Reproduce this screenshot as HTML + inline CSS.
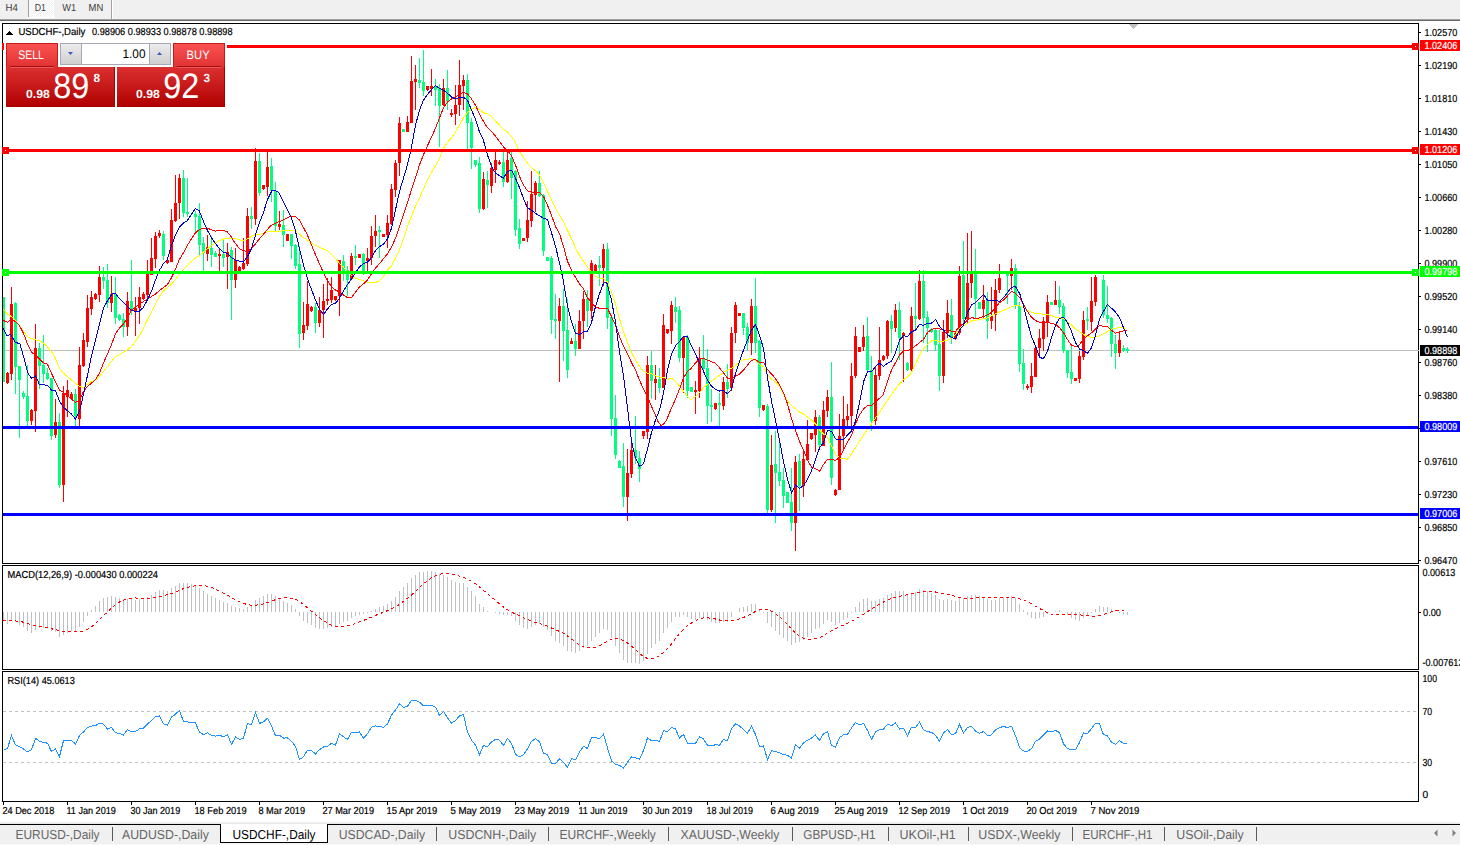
<!DOCTYPE html><html><head><meta charset="utf-8"><title>USDCHF Daily</title><style>html,body{margin:0;padding:0;background:#fff;width:1460px;height:845px;overflow:hidden}</style></head><body><svg width="1460" height="845" viewBox="0 0 1460 845" style="position:absolute;left:0;top:0" shape-rendering="crispEdges" text-rendering="geometricPrecision" font-family="'Liberation Sans', sans-serif">
<rect x="0" y="0" width="1460" height="845" fill="#ffffff"/>
<rect x="0" y="0" width="1460" height="19" fill="#f0f0f0"/>
<rect x="0" y="19" width="1460" height="1" fill="#a0a0a0"/>
<rect x="0" y="20" width="1460" height="1" fill="#696969"/>
<defs><clipPath id="cm"><rect x="3" y="24" width="1415" height="539"/></clipPath><clipPath id="cd"><rect x="3" y="566" width="1415" height="103"/></clipPath><clipPath id="cr"><rect x="3" y="672" width="1415" height="129"/></clipPath></defs>
<rect x="3" y="350" width="1415" height="1" fill="#c0c0c0"/>
<g clip-path="url(#cm)">
<rect x="3" y="297" width="1" height="85" fill="#00ff7f"/>
<rect x="2" y="297" width="3" height="85" fill="#00ff7f"/>
<rect x="7" y="372" width="1" height="12" fill="#ff0000"/>
<rect x="6" y="373" width="3" height="10" fill="#ff0000"/>
<rect x="11" y="287" width="1" height="93" fill="#ff0000"/>
<rect x="10" y="304" width="3" height="70" fill="#ff0000"/>
<rect x="15" y="302" width="1" height="92" fill="#00ff7f"/>
<rect x="14" y="303" width="3" height="64" fill="#00ff7f"/>
<rect x="19" y="366" width="1" height="72" fill="#00ff7f"/>
<rect x="18" y="366" width="3" height="14" fill="#00ff7f"/>
<rect x="23" y="391" width="1" height="8" fill="#00ff7f"/>
<rect x="22" y="393" width="3" height="4" fill="#00ff7f"/>
<rect x="27" y="365" width="1" height="61" fill="#00ff7f"/>
<rect x="26" y="396" width="3" height="25" fill="#00ff7f"/>
<rect x="31" y="409" width="1" height="16" fill="#ff0000"/>
<rect x="30" y="410" width="3" height="11" fill="#ff0000"/>
<rect x="35" y="324" width="1" height="108" fill="#ff0000"/>
<rect x="34" y="348" width="3" height="63" fill="#ff0000"/>
<rect x="39" y="343" width="1" height="46" fill="#00ff7f"/>
<rect x="38" y="348" width="3" height="18" fill="#00ff7f"/>
<rect x="43" y="335" width="1" height="48" fill="#00ff7f"/>
<rect x="42" y="365" width="3" height="9" fill="#00ff7f"/>
<rect x="47" y="368" width="1" height="12" fill="#00ff7f"/>
<rect x="46" y="373" width="3" height="6" fill="#00ff7f"/>
<rect x="51" y="378" width="1" height="62" fill="#00ff7f"/>
<rect x="50" y="378" width="3" height="58" fill="#00ff7f"/>
<rect x="55" y="399" width="1" height="39" fill="#ff0000"/>
<rect x="54" y="422" width="3" height="13" fill="#ff0000"/>
<rect x="59" y="413" width="1" height="75" fill="#00ff7f"/>
<rect x="58" y="422" width="3" height="63" fill="#00ff7f"/>
<rect x="63" y="386" width="1" height="116" fill="#ff0000"/>
<rect x="62" y="393" width="3" height="92" fill="#ff0000"/>
<rect x="67" y="380" width="1" height="37" fill="#ff0000"/>
<rect x="66" y="390" width="3" height="7" fill="#ff0000"/>
<rect x="71" y="392" width="1" height="7" fill="#ff0000"/>
<rect x="70" y="394" width="3" height="5" fill="#ff0000"/>
<rect x="75" y="389" width="1" height="37" fill="#00ff7f"/>
<rect x="74" y="394" width="3" height="22" fill="#00ff7f"/>
<rect x="79" y="347" width="1" height="79" fill="#ff0000"/>
<rect x="78" y="365" width="3" height="54" fill="#ff0000"/>
<rect x="83" y="333" width="1" height="34" fill="#ff0000"/>
<rect x="82" y="340" width="3" height="26" fill="#ff0000"/>
<rect x="87" y="295" width="1" height="52" fill="#ff0000"/>
<rect x="86" y="308" width="3" height="34" fill="#ff0000"/>
<rect x="91" y="291" width="1" height="24" fill="#ff0000"/>
<rect x="90" y="297" width="3" height="12" fill="#ff0000"/>
<rect x="95" y="293" width="1" height="7" fill="#ff0000"/>
<rect x="94" y="294" width="3" height="5" fill="#ff0000"/>
<rect x="99" y="266" width="1" height="36" fill="#ff0000"/>
<rect x="98" y="277" width="3" height="18" fill="#ff0000"/>
<rect x="103" y="267" width="1" height="22" fill="#00ff7f"/>
<rect x="102" y="277" width="3" height="4" fill="#00ff7f"/>
<rect x="107" y="264" width="1" height="44" fill="#00ff7f"/>
<rect x="106" y="280" width="3" height="23" fill="#00ff7f"/>
<rect x="111" y="276" width="1" height="36" fill="#ff0000"/>
<rect x="110" y="294" width="3" height="9" fill="#ff0000"/>
<rect x="115" y="277" width="1" height="47" fill="#00ff7f"/>
<rect x="114" y="294" width="3" height="24" fill="#00ff7f"/>
<rect x="119" y="314" width="1" height="7" fill="#00ff7f"/>
<rect x="118" y="315" width="3" height="5" fill="#00ff7f"/>
<rect x="123" y="313" width="1" height="24" fill="#00ff7f"/>
<rect x="122" y="319" width="3" height="8" fill="#00ff7f"/>
<rect x="127" y="292" width="1" height="44" fill="#ff0000"/>
<rect x="126" y="301" width="3" height="26" fill="#ff0000"/>
<rect x="131" y="260" width="1" height="55" fill="#00ff7f"/>
<rect x="130" y="301" width="3" height="10" fill="#00ff7f"/>
<rect x="135" y="297" width="1" height="39" fill="#ff0000"/>
<rect x="134" y="308" width="3" height="3" fill="#ff0000"/>
<rect x="139" y="287" width="1" height="37" fill="#ff0000"/>
<rect x="138" y="297" width="3" height="11" fill="#ff0000"/>
<rect x="143" y="292" width="1" height="8" fill="#ff0000"/>
<rect x="142" y="294" width="3" height="5" fill="#ff0000"/>
<rect x="147" y="260" width="1" height="40" fill="#ff0000"/>
<rect x="146" y="274" width="3" height="21" fill="#ff0000"/>
<rect x="151" y="238" width="1" height="37" fill="#ff0000"/>
<rect x="150" y="258" width="3" height="17" fill="#ff0000"/>
<rect x="155" y="232" width="1" height="36" fill="#ff0000"/>
<rect x="154" y="236" width="3" height="23" fill="#ff0000"/>
<rect x="159" y="230" width="1" height="8" fill="#ff0000"/>
<rect x="158" y="233" width="3" height="3" fill="#ff0000"/>
<rect x="163" y="231" width="1" height="29" fill="#00ff7f"/>
<rect x="162" y="234" width="3" height="22" fill="#00ff7f"/>
<rect x="167" y="259" width="1" height="5" fill="#ff0000"/>
<rect x="166" y="260" width="3" height="3" fill="#ff0000"/>
<rect x="171" y="209" width="1" height="53" fill="#ff0000"/>
<rect x="170" y="220" width="3" height="42" fill="#ff0000"/>
<rect x="175" y="175" width="1" height="47" fill="#ff0000"/>
<rect x="174" y="203" width="3" height="18" fill="#ff0000"/>
<rect x="179" y="174" width="1" height="45" fill="#ff0000"/>
<rect x="178" y="178" width="3" height="25" fill="#ff0000"/>
<rect x="183" y="170" width="1" height="47" fill="#00ff7f"/>
<rect x="182" y="178" width="3" height="35" fill="#00ff7f"/>
<rect x="187" y="178" width="1" height="39" fill="#00ff7f"/>
<rect x="186" y="212" width="3" height="2" fill="#00ff7f"/>
<rect x="195" y="211" width="1" height="21" fill="#00ff7f"/>
<rect x="194" y="214" width="3" height="3" fill="#00ff7f"/>
<rect x="199" y="203" width="1" height="52" fill="#00ff7f"/>
<rect x="198" y="216" width="3" height="29" fill="#00ff7f"/>
<rect x="203" y="237" width="1" height="34" fill="#00ff7f"/>
<rect x="202" y="243" width="3" height="10" fill="#00ff7f"/>
<rect x="207" y="235" width="1" height="26" fill="#ff0000"/>
<rect x="206" y="247" width="3" height="7" fill="#ff0000"/>
<rect x="211" y="236" width="1" height="31" fill="#00ff7f"/>
<rect x="210" y="248" width="3" height="7" fill="#00ff7f"/>
<rect x="215" y="251" width="1" height="6" fill="#00ff7f"/>
<rect x="214" y="253" width="3" height="4" fill="#00ff7f"/>
<rect x="219" y="248" width="1" height="23" fill="#ff0000"/>
<rect x="218" y="254" width="3" height="2" fill="#ff0000"/>
<rect x="223" y="238" width="1" height="29" fill="#00ff7f"/>
<rect x="222" y="254" width="3" height="4" fill="#00ff7f"/>
<rect x="227" y="243" width="1" height="46" fill="#ff0000"/>
<rect x="226" y="252" width="3" height="5" fill="#ff0000"/>
<rect x="231" y="247" width="1" height="73" fill="#00ff7f"/>
<rect x="230" y="250" width="3" height="30" fill="#00ff7f"/>
<rect x="235" y="248" width="1" height="40" fill="#ff0000"/>
<rect x="234" y="260" width="3" height="20" fill="#ff0000"/>
<rect x="239" y="266" width="1" height="5" fill="#ff0000"/>
<rect x="238" y="267" width="3" height="4" fill="#ff0000"/>
<rect x="243" y="238" width="1" height="32" fill="#ff0000"/>
<rect x="242" y="263" width="3" height="6" fill="#ff0000"/>
<rect x="247" y="208" width="1" height="58" fill="#ff0000"/>
<rect x="246" y="216" width="3" height="48" fill="#ff0000"/>
<rect x="251" y="207" width="1" height="22" fill="#00ff7f"/>
<rect x="250" y="216" width="3" height="3" fill="#00ff7f"/>
<rect x="255" y="148" width="1" height="77" fill="#ff0000"/>
<rect x="254" y="161" width="3" height="58" fill="#ff0000"/>
<rect x="259" y="153" width="1" height="43" fill="#00ff7f"/>
<rect x="258" y="161" width="3" height="32" fill="#00ff7f"/>
<rect x="263" y="185" width="1" height="5" fill="#ff0000"/>
<rect x="262" y="185" width="3" height="4" fill="#ff0000"/>
<rect x="267" y="152" width="1" height="44" fill="#ff0000"/>
<rect x="266" y="167" width="3" height="20" fill="#ff0000"/>
<rect x="271" y="158" width="1" height="44" fill="#00ff7f"/>
<rect x="270" y="166" width="3" height="25" fill="#00ff7f"/>
<rect x="275" y="182" width="1" height="50" fill="#00ff7f"/>
<rect x="274" y="191" width="3" height="35" fill="#00ff7f"/>
<rect x="279" y="211" width="1" height="19" fill="#ff0000"/>
<rect x="278" y="224" width="3" height="3" fill="#ff0000"/>
<rect x="283" y="210" width="1" height="37" fill="#00ff7f"/>
<rect x="282" y="225" width="3" height="10" fill="#00ff7f"/>
<rect x="287" y="234" width="1" height="7" fill="#ff0000"/>
<rect x="286" y="234" width="3" height="7" fill="#ff0000"/>
<rect x="291" y="234" width="1" height="25" fill="#00ff7f"/>
<rect x="290" y="234" width="3" height="12" fill="#00ff7f"/>
<rect x="295" y="244" width="1" height="25" fill="#00ff7f"/>
<rect x="294" y="245" width="3" height="21" fill="#00ff7f"/>
<rect x="299" y="246" width="1" height="102" fill="#00ff7f"/>
<rect x="298" y="264" width="3" height="70" fill="#00ff7f"/>
<rect x="303" y="302" width="1" height="38" fill="#ff0000"/>
<rect x="302" y="325" width="3" height="8" fill="#ff0000"/>
<rect x="307" y="281" width="1" height="49" fill="#ff0000"/>
<rect x="306" y="304" width="3" height="22" fill="#ff0000"/>
<rect x="311" y="306" width="1" height="6" fill="#ff0000"/>
<rect x="310" y="307" width="3" height="4" fill="#ff0000"/>
<rect x="315" y="303" width="1" height="30" fill="#00ff7f"/>
<rect x="314" y="307" width="3" height="16" fill="#00ff7f"/>
<rect x="319" y="297" width="1" height="30" fill="#ff0000"/>
<rect x="318" y="310" width="3" height="13" fill="#ff0000"/>
<rect x="323" y="284" width="1" height="54" fill="#ff0000"/>
<rect x="322" y="301" width="3" height="9" fill="#ff0000"/>
<rect x="327" y="278" width="1" height="27" fill="#ff0000"/>
<rect x="326" y="299" width="3" height="2" fill="#ff0000"/>
<rect x="331" y="277" width="1" height="26" fill="#ff0000"/>
<rect x="330" y="290" width="3" height="10" fill="#ff0000"/>
<rect x="335" y="296" width="1" height="5" fill="#ff0000"/>
<rect x="334" y="296" width="3" height="4" fill="#ff0000"/>
<rect x="339" y="260" width="1" height="56" fill="#ff0000"/>
<rect x="338" y="260" width="3" height="36" fill="#ff0000"/>
<rect x="343" y="255" width="1" height="26" fill="#00ff7f"/>
<rect x="342" y="261" width="3" height="10" fill="#00ff7f"/>
<rect x="347" y="266" width="1" height="30" fill="#00ff7f"/>
<rect x="346" y="270" width="3" height="10" fill="#00ff7f"/>
<rect x="351" y="253" width="1" height="26" fill="#ff0000"/>
<rect x="350" y="256" width="3" height="23" fill="#ff0000"/>
<rect x="355" y="245" width="1" height="20" fill="#00ff7f"/>
<rect x="354" y="256" width="3" height="2" fill="#00ff7f"/>
<rect x="359" y="254" width="1" height="4" fill="#ff0000"/>
<rect x="358" y="254" width="3" height="4" fill="#ff0000"/>
<rect x="363" y="253" width="1" height="22" fill="#00ff7f"/>
<rect x="362" y="254" width="3" height="19" fill="#00ff7f"/>
<rect x="367" y="248" width="1" height="23" fill="#ff0000"/>
<rect x="366" y="258" width="3" height="3" fill="#ff0000"/>
<rect x="371" y="226" width="1" height="39" fill="#ff0000"/>
<rect x="370" y="236" width="3" height="22" fill="#ff0000"/>
<rect x="375" y="215" width="1" height="32" fill="#ff0000"/>
<rect x="374" y="231" width="3" height="5" fill="#ff0000"/>
<rect x="379" y="226" width="1" height="32" fill="#00ff7f"/>
<rect x="378" y="230" width="3" height="2" fill="#00ff7f"/>
<rect x="383" y="234" width="1" height="3" fill="#ff0000"/>
<rect x="382" y="234" width="3" height="3" fill="#ff0000"/>
<rect x="387" y="215" width="1" height="33" fill="#ff0000"/>
<rect x="386" y="223" width="3" height="12" fill="#ff0000"/>
<rect x="391" y="184" width="1" height="41" fill="#ff0000"/>
<rect x="390" y="189" width="3" height="35" fill="#ff0000"/>
<rect x="395" y="160" width="1" height="37" fill="#ff0000"/>
<rect x="394" y="163" width="3" height="27" fill="#ff0000"/>
<rect x="399" y="117" width="1" height="59" fill="#ff0000"/>
<rect x="398" y="123" width="3" height="40" fill="#ff0000"/>
<rect x="403" y="129" width="1" height="3" fill="#00ff7f"/>
<rect x="402" y="129" width="3" height="3" fill="#00ff7f"/>
<rect x="407" y="116" width="1" height="16" fill="#ff0000"/>
<rect x="406" y="122" width="3" height="10" fill="#ff0000"/>
<rect x="411" y="56" width="1" height="67" fill="#ff0000"/>
<rect x="410" y="81" width="3" height="42" fill="#ff0000"/>
<rect x="415" y="65" width="1" height="45" fill="#ff0000"/>
<rect x="414" y="79" width="3" height="3" fill="#ff0000"/>
<rect x="419" y="58" width="1" height="30" fill="#00ff7f"/>
<rect x="418" y="80" width="3" height="3" fill="#00ff7f"/>
<rect x="423" y="50" width="1" height="46" fill="#00ff7f"/>
<rect x="422" y="82" width="3" height="9" fill="#00ff7f"/>
<rect x="427" y="86" width="1" height="5" fill="#ff0000"/>
<rect x="426" y="86" width="3" height="4" fill="#ff0000"/>
<rect x="431" y="69" width="1" height="27" fill="#ff0000"/>
<rect x="430" y="86" width="3" height="3" fill="#ff0000"/>
<rect x="435" y="79" width="1" height="27" fill="#00ff7f"/>
<rect x="434" y="86" width="3" height="4" fill="#00ff7f"/>
<rect x="439" y="84" width="1" height="63" fill="#00ff7f"/>
<rect x="438" y="88" width="3" height="18" fill="#00ff7f"/>
<rect x="443" y="79" width="1" height="27" fill="#ff0000"/>
<rect x="442" y="88" width="3" height="17" fill="#ff0000"/>
<rect x="447" y="70" width="1" height="40" fill="#00ff7f"/>
<rect x="446" y="88" width="3" height="13" fill="#00ff7f"/>
<rect x="451" y="109" width="1" height="8" fill="#ff0000"/>
<rect x="450" y="113" width="3" height="2" fill="#ff0000"/>
<rect x="455" y="85" width="1" height="40" fill="#ff0000"/>
<rect x="454" y="105" width="3" height="9" fill="#ff0000"/>
<rect x="459" y="60" width="1" height="56" fill="#ff0000"/>
<rect x="458" y="85" width="3" height="20" fill="#ff0000"/>
<rect x="463" y="75" width="1" height="35" fill="#ff0000"/>
<rect x="462" y="80" width="3" height="6" fill="#ff0000"/>
<rect x="467" y="74" width="1" height="75" fill="#00ff7f"/>
<rect x="466" y="80" width="3" height="43" fill="#00ff7f"/>
<rect x="471" y="118" width="1" height="51" fill="#00ff7f"/>
<rect x="470" y="122" width="3" height="26" fill="#00ff7f"/>
<rect x="475" y="160" width="1" height="7" fill="#00ff7f"/>
<rect x="474" y="160" width="3" height="5" fill="#00ff7f"/>
<rect x="479" y="157" width="1" height="56" fill="#00ff7f"/>
<rect x="478" y="163" width="3" height="46" fill="#00ff7f"/>
<rect x="483" y="172" width="1" height="38" fill="#ff0000"/>
<rect x="482" y="179" width="3" height="30" fill="#ff0000"/>
<rect x="487" y="171" width="1" height="37" fill="#00ff7f"/>
<rect x="486" y="180" width="3" height="5" fill="#00ff7f"/>
<rect x="491" y="163" width="1" height="30" fill="#ff0000"/>
<rect x="490" y="168" width="3" height="18" fill="#ff0000"/>
<rect x="495" y="151" width="1" height="32" fill="#ff0000"/>
<rect x="494" y="160" width="3" height="10" fill="#ff0000"/>
<rect x="499" y="160" width="1" height="5" fill="#ff0000"/>
<rect x="498" y="162" width="3" height="2" fill="#ff0000"/>
<rect x="503" y="151" width="1" height="36" fill="#00ff7f"/>
<rect x="502" y="162" width="3" height="20" fill="#00ff7f"/>
<rect x="507" y="151" width="1" height="32" fill="#ff0000"/>
<rect x="506" y="160" width="3" height="22" fill="#ff0000"/>
<rect x="511" y="152" width="1" height="47" fill="#00ff7f"/>
<rect x="510" y="158" width="3" height="20" fill="#00ff7f"/>
<rect x="515" y="170" width="1" height="66" fill="#00ff7f"/>
<rect x="514" y="171" width="3" height="59" fill="#00ff7f"/>
<rect x="519" y="219" width="1" height="30" fill="#00ff7f"/>
<rect x="518" y="228" width="3" height="16" fill="#00ff7f"/>
<rect x="523" y="238" width="1" height="3" fill="#ff0000"/>
<rect x="522" y="238" width="3" height="3" fill="#ff0000"/>
<rect x="527" y="201" width="1" height="41" fill="#ff0000"/>
<rect x="526" y="220" width="3" height="18" fill="#ff0000"/>
<rect x="531" y="171" width="1" height="56" fill="#ff0000"/>
<rect x="530" y="194" width="3" height="27" fill="#ff0000"/>
<rect x="535" y="181" width="1" height="31" fill="#ff0000"/>
<rect x="534" y="183" width="3" height="12" fill="#ff0000"/>
<rect x="539" y="171" width="1" height="26" fill="#00ff7f"/>
<rect x="538" y="183" width="3" height="13" fill="#00ff7f"/>
<rect x="543" y="194" width="1" height="62" fill="#00ff7f"/>
<rect x="542" y="195" width="3" height="56" fill="#00ff7f"/>
<rect x="547" y="257" width="1" height="4" fill="#00ff7f"/>
<rect x="546" y="257" width="3" height="4" fill="#00ff7f"/>
<rect x="551" y="256" width="1" height="78" fill="#00ff7f"/>
<rect x="550" y="258" width="3" height="62" fill="#00ff7f"/>
<rect x="555" y="294" width="1" height="45" fill="#00ff7f"/>
<rect x="554" y="319" width="3" height="2" fill="#00ff7f"/>
<rect x="559" y="298" width="1" height="84" fill="#ff0000"/>
<rect x="558" y="306" width="3" height="15" fill="#ff0000"/>
<rect x="563" y="289" width="1" height="72" fill="#00ff7f"/>
<rect x="562" y="306" width="3" height="25" fill="#00ff7f"/>
<rect x="567" y="299" width="1" height="79" fill="#00ff7f"/>
<rect x="566" y="330" width="3" height="40" fill="#00ff7f"/>
<rect x="571" y="338" width="1" height="6" fill="#ff0000"/>
<rect x="570" y="341" width="3" height="3" fill="#ff0000"/>
<rect x="575" y="324" width="1" height="32" fill="#00ff7f"/>
<rect x="574" y="341" width="3" height="8" fill="#00ff7f"/>
<rect x="579" y="310" width="1" height="39" fill="#ff0000"/>
<rect x="578" y="321" width="3" height="28" fill="#ff0000"/>
<rect x="583" y="291" width="1" height="48" fill="#ff0000"/>
<rect x="582" y="299" width="3" height="22" fill="#ff0000"/>
<rect x="587" y="290" width="1" height="37" fill="#00ff7f"/>
<rect x="586" y="299" width="3" height="12" fill="#00ff7f"/>
<rect x="591" y="260" width="1" height="59" fill="#ff0000"/>
<rect x="590" y="263" width="3" height="48" fill="#ff0000"/>
<rect x="595" y="264" width="1" height="8" fill="#ff0000"/>
<rect x="594" y="265" width="3" height="6" fill="#ff0000"/>
<rect x="599" y="256" width="1" height="30" fill="#00ff7f"/>
<rect x="598" y="265" width="3" height="3" fill="#00ff7f"/>
<rect x="603" y="244" width="1" height="42" fill="#ff0000"/>
<rect x="602" y="249" width="3" height="19" fill="#ff0000"/>
<rect x="607" y="243" width="1" height="86" fill="#00ff7f"/>
<rect x="606" y="249" width="3" height="69" fill="#00ff7f"/>
<rect x="611" y="316" width="1" height="120" fill="#00ff7f"/>
<rect x="610" y="317" width="3" height="102" fill="#00ff7f"/>
<rect x="615" y="395" width="1" height="64" fill="#00ff7f"/>
<rect x="614" y="418" width="3" height="37" fill="#00ff7f"/>
<rect x="619" y="460" width="1" height="8" fill="#00ff7f"/>
<rect x="618" y="461" width="3" height="7" fill="#00ff7f"/>
<rect x="623" y="443" width="1" height="64" fill="#00ff7f"/>
<rect x="622" y="466" width="3" height="31" fill="#00ff7f"/>
<rect x="627" y="449" width="1" height="72" fill="#ff0000"/>
<rect x="626" y="473" width="3" height="24" fill="#ff0000"/>
<rect x="631" y="443" width="1" height="35" fill="#ff0000"/>
<rect x="630" y="450" width="3" height="24" fill="#ff0000"/>
<rect x="635" y="416" width="1" height="48" fill="#00ff7f"/>
<rect x="634" y="450" width="3" height="8" fill="#00ff7f"/>
<rect x="639" y="451" width="1" height="31" fill="#00ff7f"/>
<rect x="638" y="458" width="3" height="11" fill="#00ff7f"/>
<rect x="643" y="431" width="1" height="8" fill="#ff0000"/>
<rect x="642" y="431" width="3" height="5" fill="#ff0000"/>
<rect x="647" y="356" width="1" height="83" fill="#ff0000"/>
<rect x="646" y="365" width="3" height="67" fill="#ff0000"/>
<rect x="651" y="351" width="1" height="48" fill="#00ff7f"/>
<rect x="650" y="365" width="3" height="16" fill="#00ff7f"/>
<rect x="655" y="365" width="1" height="35" fill="#ff0000"/>
<rect x="654" y="379" width="3" height="4" fill="#ff0000"/>
<rect x="659" y="368" width="1" height="25" fill="#00ff7f"/>
<rect x="658" y="379" width="3" height="9" fill="#00ff7f"/>
<rect x="663" y="314" width="1" height="74" fill="#ff0000"/>
<rect x="662" y="325" width="3" height="63" fill="#ff0000"/>
<rect x="667" y="329" width="1" height="5" fill="#ff0000"/>
<rect x="666" y="329" width="3" height="4" fill="#ff0000"/>
<rect x="671" y="301" width="1" height="43" fill="#ff0000"/>
<rect x="670" y="305" width="3" height="26" fill="#ff0000"/>
<rect x="675" y="297" width="1" height="26" fill="#00ff7f"/>
<rect x="674" y="307" width="3" height="5" fill="#00ff7f"/>
<rect x="679" y="306" width="1" height="56" fill="#00ff7f"/>
<rect x="678" y="310" width="3" height="48" fill="#00ff7f"/>
<rect x="683" y="336" width="1" height="57" fill="#ff0000"/>
<rect x="682" y="337" width="3" height="21" fill="#ff0000"/>
<rect x="687" y="335" width="1" height="63" fill="#00ff7f"/>
<rect x="686" y="337" width="3" height="54" fill="#00ff7f"/>
<rect x="691" y="387" width="1" height="5" fill="#00ff7f"/>
<rect x="690" y="387" width="3" height="5" fill="#00ff7f"/>
<rect x="695" y="381" width="1" height="33" fill="#ff0000"/>
<rect x="694" y="390" width="3" height="2" fill="#ff0000"/>
<rect x="699" y="347" width="1" height="51" fill="#ff0000"/>
<rect x="698" y="358" width="3" height="33" fill="#ff0000"/>
<rect x="703" y="335" width="1" height="38" fill="#00ff7f"/>
<rect x="702" y="358" width="3" height="11" fill="#00ff7f"/>
<rect x="707" y="349" width="1" height="75" fill="#00ff7f"/>
<rect x="706" y="368" width="3" height="38" fill="#00ff7f"/>
<rect x="711" y="389" width="1" height="33" fill="#00ff7f"/>
<rect x="710" y="405" width="3" height="2" fill="#00ff7f"/>
<rect x="715" y="403" width="1" height="7" fill="#ff0000"/>
<rect x="714" y="403" width="3" height="6" fill="#ff0000"/>
<rect x="719" y="393" width="1" height="33" fill="#00ff7f"/>
<rect x="718" y="403" width="3" height="2" fill="#00ff7f"/>
<rect x="723" y="377" width="1" height="33" fill="#ff0000"/>
<rect x="722" y="382" width="3" height="24" fill="#ff0000"/>
<rect x="727" y="364" width="1" height="34" fill="#00ff7f"/>
<rect x="726" y="382" width="3" height="7" fill="#00ff7f"/>
<rect x="731" y="327" width="1" height="64" fill="#ff0000"/>
<rect x="730" y="333" width="3" height="55" fill="#ff0000"/>
<rect x="735" y="302" width="1" height="41" fill="#ff0000"/>
<rect x="734" y="305" width="3" height="28" fill="#ff0000"/>
<rect x="739" y="313" width="1" height="3" fill="#ff0000"/>
<rect x="738" y="313" width="3" height="3" fill="#ff0000"/>
<rect x="743" y="313" width="1" height="22" fill="#00ff7f"/>
<rect x="742" y="313" width="3" height="15" fill="#00ff7f"/>
<rect x="747" y="323" width="1" height="28" fill="#00ff7f"/>
<rect x="746" y="327" width="3" height="16" fill="#00ff7f"/>
<rect x="751" y="299" width="1" height="56" fill="#ff0000"/>
<rect x="750" y="306" width="3" height="37" fill="#ff0000"/>
<rect x="755" y="278" width="1" height="75" fill="#00ff7f"/>
<rect x="754" y="306" width="3" height="37" fill="#00ff7f"/>
<rect x="759" y="340" width="1" height="77" fill="#00ff7f"/>
<rect x="758" y="341" width="3" height="67" fill="#00ff7f"/>
<rect x="763" y="405" width="1" height="6" fill="#ff0000"/>
<rect x="762" y="405" width="3" height="5" fill="#ff0000"/>
<rect x="767" y="404" width="1" height="109" fill="#00ff7f"/>
<rect x="766" y="406" width="3" height="104" fill="#00ff7f"/>
<rect x="771" y="435" width="1" height="77" fill="#ff0000"/>
<rect x="770" y="465" width="3" height="45" fill="#ff0000"/>
<rect x="775" y="431" width="1" height="92" fill="#00ff7f"/>
<rect x="774" y="464" width="3" height="9" fill="#00ff7f"/>
<rect x="779" y="442" width="1" height="44" fill="#00ff7f"/>
<rect x="778" y="472" width="3" height="9" fill="#00ff7f"/>
<rect x="783" y="468" width="1" height="40" fill="#00ff7f"/>
<rect x="782" y="480" width="3" height="16" fill="#00ff7f"/>
<rect x="787" y="492" width="1" height="11" fill="#00ff7f"/>
<rect x="786" y="492" width="3" height="11" fill="#00ff7f"/>
<rect x="791" y="468" width="1" height="63" fill="#00ff7f"/>
<rect x="790" y="502" width="3" height="21" fill="#00ff7f"/>
<rect x="795" y="456" width="1" height="95" fill="#ff0000"/>
<rect x="794" y="462" width="3" height="61" fill="#ff0000"/>
<rect x="799" y="454" width="1" height="57" fill="#00ff7f"/>
<rect x="798" y="461" width="3" height="25" fill="#00ff7f"/>
<rect x="803" y="449" width="1" height="48" fill="#ff0000"/>
<rect x="802" y="459" width="3" height="27" fill="#ff0000"/>
<rect x="807" y="420" width="1" height="40" fill="#ff0000"/>
<rect x="806" y="444" width="3" height="16" fill="#ff0000"/>
<rect x="811" y="433" width="1" height="7" fill="#ff0000"/>
<rect x="810" y="433" width="3" height="6" fill="#ff0000"/>
<rect x="815" y="410" width="1" height="42" fill="#ff0000"/>
<rect x="814" y="417" width="3" height="18" fill="#ff0000"/>
<rect x="819" y="415" width="1" height="34" fill="#00ff7f"/>
<rect x="818" y="417" width="3" height="28" fill="#00ff7f"/>
<rect x="823" y="401" width="1" height="45" fill="#ff0000"/>
<rect x="822" y="410" width="3" height="36" fill="#ff0000"/>
<rect x="827" y="390" width="1" height="27" fill="#ff0000"/>
<rect x="826" y="397" width="3" height="14" fill="#ff0000"/>
<rect x="831" y="362" width="1" height="123" fill="#00ff7f"/>
<rect x="830" y="397" width="3" height="81" fill="#00ff7f"/>
<rect x="835" y="489" width="1" height="7" fill="#ff0000"/>
<rect x="834" y="490" width="3" height="5" fill="#ff0000"/>
<rect x="839" y="414" width="1" height="76" fill="#ff0000"/>
<rect x="838" y="436" width="3" height="54" fill="#ff0000"/>
<rect x="843" y="396" width="1" height="54" fill="#ff0000"/>
<rect x="842" y="419" width="3" height="17" fill="#ff0000"/>
<rect x="847" y="404" width="1" height="23" fill="#ff0000"/>
<rect x="846" y="416" width="3" height="4" fill="#ff0000"/>
<rect x="851" y="363" width="1" height="63" fill="#ff0000"/>
<rect x="850" y="376" width="3" height="40" fill="#ff0000"/>
<rect x="855" y="327" width="1" height="51" fill="#ff0000"/>
<rect x="854" y="336" width="3" height="40" fill="#ff0000"/>
<rect x="859" y="347" width="1" height="5" fill="#ff0000"/>
<rect x="858" y="347" width="3" height="5" fill="#ff0000"/>
<rect x="863" y="325" width="1" height="26" fill="#ff0000"/>
<rect x="862" y="337" width="3" height="10" fill="#ff0000"/>
<rect x="867" y="317" width="1" height="54" fill="#00ff7f"/>
<rect x="866" y="336" width="3" height="34" fill="#00ff7f"/>
<rect x="871" y="356" width="1" height="75" fill="#00ff7f"/>
<rect x="870" y="370" width="3" height="51" fill="#00ff7f"/>
<rect x="875" y="366" width="1" height="59" fill="#ff0000"/>
<rect x="874" y="375" width="3" height="46" fill="#ff0000"/>
<rect x="879" y="327" width="1" height="53" fill="#ff0000"/>
<rect x="878" y="360" width="3" height="16" fill="#ff0000"/>
<rect x="883" y="355" width="1" height="6" fill="#ff0000"/>
<rect x="882" y="356" width="3" height="4" fill="#ff0000"/>
<rect x="887" y="320" width="1" height="39" fill="#ff0000"/>
<rect x="886" y="321" width="3" height="35" fill="#ff0000"/>
<rect x="891" y="315" width="1" height="38" fill="#00ff7f"/>
<rect x="890" y="321" width="3" height="8" fill="#00ff7f"/>
<rect x="895" y="304" width="1" height="28" fill="#ff0000"/>
<rect x="894" y="310" width="3" height="18" fill="#ff0000"/>
<rect x="899" y="302" width="1" height="58" fill="#00ff7f"/>
<rect x="898" y="310" width="3" height="28" fill="#00ff7f"/>
<rect x="903" y="332" width="1" height="50" fill="#ff0000"/>
<rect x="902" y="333" width="3" height="3" fill="#ff0000"/>
<rect x="907" y="362" width="1" height="9" fill="#00ff7f"/>
<rect x="906" y="363" width="3" height="7" fill="#00ff7f"/>
<rect x="911" y="307" width="1" height="66" fill="#ff0000"/>
<rect x="910" y="316" width="3" height="54" fill="#ff0000"/>
<rect x="915" y="283" width="1" height="46" fill="#00ff7f"/>
<rect x="914" y="316" width="3" height="3" fill="#00ff7f"/>
<rect x="919" y="270" width="1" height="50" fill="#ff0000"/>
<rect x="918" y="281" width="3" height="38" fill="#ff0000"/>
<rect x="923" y="270" width="1" height="73" fill="#00ff7f"/>
<rect x="922" y="281" width="3" height="37" fill="#00ff7f"/>
<rect x="927" y="311" width="1" height="41" fill="#00ff7f"/>
<rect x="926" y="317" width="3" height="11" fill="#00ff7f"/>
<rect x="931" y="328" width="1" height="5" fill="#00ff7f"/>
<rect x="930" y="329" width="3" height="3" fill="#00ff7f"/>
<rect x="935" y="329" width="1" height="22" fill="#00ff7f"/>
<rect x="934" y="330" width="3" height="15" fill="#00ff7f"/>
<rect x="939" y="330" width="1" height="61" fill="#00ff7f"/>
<rect x="938" y="344" width="3" height="32" fill="#00ff7f"/>
<rect x="943" y="320" width="1" height="63" fill="#ff0000"/>
<rect x="942" y="332" width="3" height="44" fill="#ff0000"/>
<rect x="947" y="300" width="1" height="38" fill="#ff0000"/>
<rect x="946" y="313" width="3" height="20" fill="#ff0000"/>
<rect x="951" y="299" width="1" height="45" fill="#00ff7f"/>
<rect x="950" y="315" width="3" height="23" fill="#00ff7f"/>
<rect x="955" y="332" width="1" height="8" fill="#ff0000"/>
<rect x="954" y="333" width="3" height="6" fill="#ff0000"/>
<rect x="959" y="266" width="1" height="69" fill="#ff0000"/>
<rect x="958" y="276" width="3" height="57" fill="#ff0000"/>
<rect x="963" y="241" width="1" height="82" fill="#00ff7f"/>
<rect x="962" y="275" width="3" height="44" fill="#00ff7f"/>
<rect x="967" y="233" width="1" height="91" fill="#ff0000"/>
<rect x="966" y="283" width="3" height="36" fill="#ff0000"/>
<rect x="971" y="231" width="1" height="67" fill="#ff0000"/>
<rect x="970" y="274" width="3" height="9" fill="#ff0000"/>
<rect x="975" y="249" width="1" height="69" fill="#00ff7f"/>
<rect x="974" y="274" width="3" height="25" fill="#00ff7f"/>
<rect x="979" y="302" width="1" height="7" fill="#00ff7f"/>
<rect x="978" y="302" width="3" height="7" fill="#00ff7f"/>
<rect x="983" y="285" width="1" height="34" fill="#ff0000"/>
<rect x="982" y="300" width="3" height="9" fill="#ff0000"/>
<rect x="987" y="292" width="1" height="47" fill="#00ff7f"/>
<rect x="986" y="300" width="3" height="21" fill="#00ff7f"/>
<rect x="991" y="287" width="1" height="42" fill="#ff0000"/>
<rect x="990" y="316" width="3" height="5" fill="#ff0000"/>
<rect x="995" y="279" width="1" height="52" fill="#ff0000"/>
<rect x="994" y="290" width="3" height="25" fill="#ff0000"/>
<rect x="999" y="264" width="1" height="29" fill="#ff0000"/>
<rect x="998" y="278" width="3" height="12" fill="#ff0000"/>
<rect x="1003" y="271" width="1" height="3" fill="#ff0000"/>
<rect x="1002" y="271" width="3" height="3" fill="#ff0000"/>
<rect x="1007" y="272" width="1" height="32" fill="#00ff7f"/>
<rect x="1006" y="273" width="3" height="3" fill="#00ff7f"/>
<rect x="1011" y="259" width="1" height="31" fill="#ff0000"/>
<rect x="1010" y="268" width="3" height="8" fill="#ff0000"/>
<rect x="1015" y="264" width="1" height="45" fill="#00ff7f"/>
<rect x="1014" y="268" width="3" height="37" fill="#00ff7f"/>
<rect x="1019" y="302" width="1" height="70" fill="#00ff7f"/>
<rect x="1018" y="306" width="3" height="58" fill="#00ff7f"/>
<rect x="1023" y="349" width="1" height="41" fill="#00ff7f"/>
<rect x="1022" y="363" width="3" height="21" fill="#00ff7f"/>
<rect x="1027" y="384" width="1" height="6" fill="#ff0000"/>
<rect x="1026" y="386" width="3" height="2" fill="#ff0000"/>
<rect x="1031" y="363" width="1" height="30" fill="#ff0000"/>
<rect x="1030" y="376" width="3" height="11" fill="#ff0000"/>
<rect x="1035" y="345" width="1" height="32" fill="#ff0000"/>
<rect x="1034" y="348" width="3" height="29" fill="#ff0000"/>
<rect x="1039" y="329" width="1" height="26" fill="#ff0000"/>
<rect x="1038" y="338" width="3" height="10" fill="#ff0000"/>
<rect x="1043" y="317" width="1" height="34" fill="#ff0000"/>
<rect x="1042" y="321" width="3" height="18" fill="#ff0000"/>
<rect x="1047" y="295" width="1" height="42" fill="#ff0000"/>
<rect x="1046" y="302" width="3" height="21" fill="#ff0000"/>
<rect x="1051" y="302" width="1" height="3" fill="#00ff7f"/>
<rect x="1050" y="302" width="3" height="3" fill="#00ff7f"/>
<rect x="1055" y="281" width="1" height="24" fill="#ff0000"/>
<rect x="1054" y="300" width="3" height="5" fill="#ff0000"/>
<rect x="1059" y="286" width="1" height="28" fill="#00ff7f"/>
<rect x="1058" y="300" width="3" height="7" fill="#00ff7f"/>
<rect x="1063" y="303" width="1" height="50" fill="#00ff7f"/>
<rect x="1062" y="306" width="3" height="45" fill="#00ff7f"/>
<rect x="1067" y="350" width="1" height="28" fill="#00ff7f"/>
<rect x="1066" y="350" width="3" height="23" fill="#00ff7f"/>
<rect x="1071" y="345" width="1" height="39" fill="#00ff7f"/>
<rect x="1070" y="372" width="3" height="7" fill="#00ff7f"/>
<rect x="1075" y="378" width="1" height="3" fill="#ff0000"/>
<rect x="1074" y="378" width="3" height="3" fill="#ff0000"/>
<rect x="1079" y="351" width="1" height="32" fill="#ff0000"/>
<rect x="1078" y="356" width="3" height="23" fill="#ff0000"/>
<rect x="1083" y="311" width="1" height="49" fill="#ff0000"/>
<rect x="1082" y="320" width="3" height="37" fill="#ff0000"/>
<rect x="1087" y="307" width="1" height="23" fill="#00ff7f"/>
<rect x="1086" y="319" width="3" height="2" fill="#00ff7f"/>
<rect x="1091" y="277" width="1" height="54" fill="#ff0000"/>
<rect x="1090" y="301" width="3" height="21" fill="#ff0000"/>
<rect x="1095" y="275" width="1" height="31" fill="#ff0000"/>
<rect x="1094" y="277" width="3" height="25" fill="#ff0000"/>
<rect x="1103" y="275" width="1" height="43" fill="#00ff7f"/>
<rect x="1102" y="280" width="3" height="35" fill="#00ff7f"/>
<rect x="1107" y="286" width="1" height="37" fill="#00ff7f"/>
<rect x="1106" y="315" width="3" height="4" fill="#00ff7f"/>
<rect x="1111" y="317" width="1" height="40" fill="#00ff7f"/>
<rect x="1110" y="318" width="3" height="26" fill="#00ff7f"/>
<rect x="1115" y="335" width="1" height="34" fill="#00ff7f"/>
<rect x="1114" y="344" width="3" height="9" fill="#00ff7f"/>
<rect x="1119" y="333" width="1" height="24" fill="#ff0000"/>
<rect x="1118" y="340" width="3" height="13" fill="#ff0000"/>
<rect x="1123" y="345" width="1" height="7" fill="#00ff7f"/>
<rect x="1122" y="348" width="3" height="3" fill="#00ff7f"/>
<rect x="1127" y="347" width="1" height="6" fill="#00ff7f"/>
<rect x="1126" y="349" width="3" height="2" fill="#00ff7f"/>
<polyline points="3.3,309.1 7.5,314.1 11.5,316.6 15.5,320.8 19.5,325.8 23.5,331.6 27.5,336.6 31.5,338.6 35.5,339.9 39.4,340.8 43.4,343.2 47.4,346.6 51.4,351.6 55.4,358.2 59.4,368.2 63.4,373.2 67.4,376.5 71.4,379.9 75.4,383.2 79.4,386.2 83.4,387.4 87.4,384.0 91.4,381.5 95.4,379.9 99.4,376.5 103.4,371.5 107.4,366.6 111.4,361.6 115.3,356.6 119.3,354.9 123.3,352.4 127.3,349.9 131.3,346.6 135.3,341.6 139.3,335.8 143.3,328.3 147.3,319.9 151.3,312.5 155.3,304.1 159.3,296.6 163.3,291.2 167.3,287.5 171.3,284.5 175.2,279.8 179.2,274.8 183.2,269.9 191.2,261.5 195.2,258.2 199.2,255.7 203.2,252.4 207.2,249.0 211.2,245.7 215.2,243.2 219.1,240.7 223.1,239.1 227.1,238.2 231.1,238.2 235.1,238.2 239.6,239.9 243.3,240.9 247.3,239.0 251.3,236.5 255.3,234.7 259.3,234.2 263.3,233.6 267.3,232.0 271.3,231.3 275.3,231.3 279.3,231.3 283.3,230.6 287.2,230.3 291.2,230.3 295.2,230.7 299.2,234.0 303.2,237.4 307.2,239.9 311.3,242.9 315.3,245.4 319.3,247.2 323.3,248.9 327.4,250.4 331.4,254.2 335.4,258.5 339.4,263.2 343.4,267.1 347.5,271.3 351.5,275.7 355.5,278.2 359.5,279.5 363.4,280.7 367.4,282.2 371.5,282.6 375.5,282.4 379.5,280.7 383.5,276.3 387.5,270.1 391.5,266.1 395.5,258.5 399.5,249.7 402.8,240.8 407.4,226.5 411.4,216.6 415.4,206.6 419.4,198.2 423.4,189.1 427.4,179.9 431.4,172.4 435.4,165.8 439.4,158.3 443.4,148.3 447.4,142.5 451.5,137.8 455.4,132.2 459.4,125.2 463.5,117.7 467.5,112.7 471.5,108.9 475.5,107.3 479.5,109.5 483.5,112.7 487.5,113.9 491.5,116.4 495.5,120.8 499.5,125.2 503.6,129.6 507.5,132.0 511.6,136.7 515.5,142.5 519.5,151.9 523.6,157.6 527.4,163.2 531.5,167.6 535.5,170.7 539.5,175.1 543.5,183.3 547.5,191.4 551.5,200.2 555.5,208.3 559.5,215.2 563.5,222.1 567.5,230.4 571.6,238.8 575.6,248.2 579.4,255.1 583.5,261.3 587.5,267.0 591.5,272.6 595.5,276.4 599.5,278.3 603.5,278.6 607.5,282.0 611.5,292.7 615.5,303.9 619.5,318.9 623.5,331.3 627.5,342.6 631.5,352.6 635.5,360.1 639.5,366.4 643.5,371.4 647.5,373.3 651.5,373.9 655.5,375.8 659.5,377.0 663.6,377.3 667.6,379.2 671.6,378.3 675.6,381.4 679.6,386.4 683.6,391.4 687.6,396.5 690.8,399.5 695.6,396.7 699.5,392.6 703.5,387.6 707.5,384.2 711.6,381.0 715.6,378.1 719.6,375.3 723.3,372.6 727.5,370.2 731.5,368.3 735.5,365.8 739.5,362.1 743.5,359.6 747.5,359.2 751.5,358.7 755.5,360.2 759.5,364.6 763.6,366.5 767.4,374.5 771.5,378.9 775.5,381.9 779.5,386.3 783.5,393.8 787.5,400.7 791.5,405.7 795.5,408.8 799.5,412.0 803.5,413.9 807.5,417.0 811.6,420.1 815.6,423.9 819.6,430.2 823.6,433.9 827.6,437.7 831.6,446.4 836.4,455.4 840.6,458.2 843.5,458.3 847.4,459.3 851.5,454.0 855.5,447.7 859.5,441.4 863.6,435.2 867.6,428.9 871.6,423.9 891.1,395.0 895.5,389.0 899.5,384.0 903.5,379.6 907.5,377.1 911.5,372.7 915.5,363.9 919.5,355.2 923.5,348.9 927.5,344.5 931.6,341.0 935.6,340.1 939.4,341.6 943.5,341.1 947.5,340.1 951.5,338.2 955.5,334.5 959.5,328.8 963.5,325.7 967.5,323.4 971.5,321.0 975.5,320.2 979.5,319.8 983.5,318.7 987.5,318.0 991.5,315.5 995.6,313.6 999.5,312.0 1003.5,310.5 1007.5,308.6 1011.5,306.8 1015.5,305.3 1019.7,306.0 1023.5,307.5 1027.5,310.2 1031.5,312.4 1035.5,313.3 1039.5,313.4 1043.3,314.5 1047.5,314.6 1051.5,315.6 1055.5,317.1 1059.5,317.7 1063.5,318.7 1067.5,321.8 1072.2,325.6 1075.5,328.9 1079.5,331.4 1083.5,334.5 1087.5,336.4 1091.6,337.4 1095.6,337.1 1099.4,335.8 1103.5,333.9 1107.5,331.4 1111.5,329.2 1115.5,328.3 1119.5,327.4 1123.5,327.7 1126.5,329.5" fill="none" stroke="#ffff00" stroke-width="1"/>
<polyline points="3.3,320.4 7.5,322.4 11.5,319.1 15.5,321.6 19.5,325.8 23.5,333.3 27.5,344.1 31.5,352.4 35.5,354.9 39.4,359.1 43.4,362.7 47.4,364.1 51.4,373.2 55.4,381.5 59.4,389.9 63.4,392.4 67.4,395.7 71.4,399.0 75.4,402.3 79.4,400.7 83.4,391.5 87.4,386.5 95.4,379.9 99.4,373.2 103.4,363.2 107.4,354.1 111.4,344.9 115.3,334.1 119.3,328.3 123.3,324.1 127.3,318.3 131.3,310.0 135.3,307.5 139.3,304.1 143.3,301.6 147.3,299.1 151.3,296.6 155.3,294.1 159.3,290.8 163.3,287.6 167.2,284.9 171.2,278.2 175.2,269.9 179.2,259.9 183.2,253.2 187.2,245.7 191.2,239.1 195.2,233.2 199.2,229.6 203.2,228.2 207.2,228.2 211.2,229.6 215.2,231.2 219.1,230.2 223.1,230.2 227.1,231.6 231.1,236.6 235.1,243.2 239.6,248.6 243.3,250.7 247.3,251.5 251.3,248.9 255.3,244.0 259.3,239.0 263.3,234.5 267.3,229.5 271.3,225.3 275.3,223.2 279.3,221.6 283.3,219.9 287.2,217.7 291.2,216.3 295.2,216.2 299.2,219.9 303.2,227.0 307.2,234.5 311.3,244.4 315.3,254.2 319.3,263.5 323.2,272.2 327.5,280.7 331.5,287.0 335.5,290.1 339.5,292.0 343.5,295.1 347.5,297.6 351.5,297.6 355.5,292.0 359.5,287.0 363.4,283.9 367.4,280.1 371.5,273.8 375.5,268.2 379.5,263.6 383.5,258.6 387.5,253.9 391.5,247.0 395.5,238.2 399.5,226.5 403.4,214.9 407.4,203.2 411.4,189.9 415.4,178.3 419.4,165.0 423.4,155.0 427.4,145.8 431.5,137.2 435.5,128.3 439.5,117.7 443.5,107.7 447.5,102.0 451.6,98.9 455.4,97.4 459.4,93.9 463.5,92.4 467.5,93.9 471.5,98.9 475.5,105.2 479.5,113.9 483.5,121.5 487.5,127.7 491.5,131.5 495.5,136.1 499.5,141.4 503.5,146.9 507.5,150.7 511.5,155.7 515.5,165.1 519.5,176.4 523.6,185.1 527.4,190.8 531.5,192.0 535.5,192.0 539.5,192.7 543.5,196.4 547.5,205.2 551.5,215.2 555.5,226.5 559.5,233.8 563.5,246.3 567.5,261.3 571.6,270.1 575.6,277.6 579.4,283.9 583.5,288.9 587.5,297.7 591.5,302.7 595.5,307.1 599.5,308.3 603.5,308.3 607.5,308.3 611.5,316.5 615.6,325.5 619.4,336.3 623.5,346.3 627.5,353.8 631.5,362.6 635.5,370.1 639.5,380.2 643.5,388.9 647.5,396.5 651.5,406.5 655.5,415.3 657.8,421.3 660.9,425.3 663.4,424.4 666.6,420.0 671.6,407.7 675.6,399.0 679.6,388.9 683.6,377.7 687.6,371.4 690.8,368.6 695.6,363.0 699.5,358.8 703.5,358.5 707.5,360.2 711.6,361.7 715.6,363.3 719.6,368.0 723.3,372.6 727.5,378.3 731.5,378.3 735.5,376.1 739.5,374.2 743.5,370.2 747.5,365.2 751.5,360.2 755.5,359.6 759.5,362.5 763.6,362.5 767.4,369.6 771.5,373.9 775.5,378.6 779.5,385.0 783.5,392.6 787.5,403.8 791.5,418.9 795.5,430.2 799.5,441.4 803.5,450.2 807.5,460.1 811.5,467.0 815.6,468.6 819.6,471.1 823.6,464.2 827.6,459.3 831.5,459.3 835.5,460.4 839.5,457.6 843.5,450.2 847.5,442.1 851.5,435.2 855.5,423.9 859.5,415.1 863.6,408.8 867.6,405.7 871.6,405.1 883.2,395.0 887.4,381.5 891.5,370.2 895.5,362.7 899.5,355.2 903.5,350.8 907.5,350.5 911.5,348.9 915.5,345.8 919.5,342.6 923.5,339.5 927.5,332.6 931.6,329.5 935.6,328.2 939.4,328.8 943.5,330.1 947.5,330.7 951.5,331.1 955.5,331.4 959.5,326.3 963.5,323.8 967.5,319.9 971.5,317.5 975.5,318.5 979.5,318.0 983.5,316.5 987.5,314.9 991.5,312.4 995.6,307.4 999.5,302.7 1003.5,299.9 1007.5,295.8 1011.5,291.4 1015.5,293.3 1019.7,297.4 1023.5,304.5 1027.5,311.6 1031.5,317.3 1035.5,320.6 1039.5,322.3 1043.3,322.8 1047.5,322.3 1051.5,323.3 1055.5,324.3 1059.5,327.7 1063.5,332.7 1067.5,339.6 1071.5,345.2 1075.5,346.7 1079.5,344.6 1083.5,338.9 1087.5,335.8 1091.6,332.7 1095.6,328.9 1099.4,325.5 1103.5,326.4 1107.5,326.4 1111.5,330.2 1115.5,333.3 1119.5,332.0 1123.5,330.8 1126.5,330.2" fill="none" stroke="#ff0000" stroke-width="1"/>
<polyline points="3.3,328.3 6.7,335.8 10.8,334.6 15.0,341.9 20.0,344.1 25.0,361.6 27.5,372.4 31.6,378.5 35.5,375.7 39.4,384.5 47.4,385.2 51.6,390.2 55.4,390.7 59.4,400.7 63.4,407.3 71.4,414.0 75.4,419.0 79.4,411.5 83.4,394.8 87.4,375.7 91.4,356.6 95.4,340.8 99.4,324.1 103.4,308.3 107.4,300.8 112.4,293.4 115.8,294.0 119.3,298.3 127.3,306.6 131.3,310.0 135.3,311.6 139.3,311.3 143.3,307.5 147.3,300.0 151.3,291.6 155.2,280.7 159.2,270.7 163.2,264.0 167.2,259.9 171.2,246.6 175.2,235.7 179.2,227.4 183.2,223.2 187.2,220.8 191.2,214.9 195.2,208.6 199.2,210.8 203.2,220.8 207.2,229.9 211.2,237.4 215.2,243.2 219.1,248.2 223.1,252.4 227.1,253.2 231.1,257.4 235.1,259.9 239.6,261.3 243.3,262.1 247.3,256.9 251.3,249.0 255.3,235.7 259.3,222.8 263.3,213.2 267.3,199.9 271.9,190.8 275.5,190.8 278.8,192.2 283.3,201.6 287.2,209.1 291.2,217.0 295.2,229.9 299.3,248.0 303.3,264.1 307.3,278.3 311.3,289.1 315.6,300.2 319.4,308.9 323.5,314.6 327.5,308.9 331.5,304.5 335.5,303.3 339.5,298.3 343.5,290.8 347.5,284.5 351.5,278.8 355.5,272.6 359.5,266.9 363.4,263.6 367.4,262.1 371.4,257.9 375.4,250.7 379.5,246.7 383.5,244.2 387.5,239.0 391.5,228.2 395.5,209.9 399.5,191.6 403.4,178.3 407.4,165.0 411.4,147.5 415.5,125.2 419.5,110.2 423.5,100.2 427.5,94.5 431.5,89.5 435.5,85.7 439.5,88.2 443.5,90.1 447.5,93.3 451.6,97.0 455.4,98.9 459.4,97.6 463.5,97.3 467.5,100.2 471.5,110.2 475.5,118.9 479.5,132.1 483.2,139.5 487.5,155.1 491.5,166.3 495.5,173.2 499.5,175.7 503.5,178.2 507.5,171.4 511.5,170.1 515.5,178.2 519.5,187.6 523.6,198.9 527.4,207.7 531.5,210.2 535.5,213.3 539.5,215.8 543.5,218.3 547.5,219.6 550.9,230.8 555.5,246.3 559.5,262.6 563.5,281.4 567.5,306.5 571.5,321.4 575.5,333.2 579.5,334.4 583.5,331.9 587.5,331.3 591.5,322.6 595.5,306.5 599.5,293.9 603.5,283.3 606.7,282.3 611.5,300.2 615.6,322.6 619.4,351.3 623.5,376.4 628.5,416.4 631.5,441.3 635.5,458.2 639.5,466.4 643.5,463.9 647.5,448.8 651.5,432.5 655.5,420.0 659.5,410.2 663.6,392.7 667.6,370.1 671.6,353.8 675.6,345.7 679.6,341.3 683.6,336.3 687.6,336.9 690.8,344.5 695.6,354.5 699.5,362.7 703.5,371.4 707.5,380.1 711.6,386.4 715.6,389.2 719.6,391.1 723.2,390.4 727.5,393.8 731.5,389.4 734.7,376.4 739.5,361.5 743.5,350.2 747.5,340.2 751.5,330.1 755.5,324.5 759.5,335.1 763.6,348.9 767.4,377.0 771.5,401.3 775.5,420.1 779.5,440.2 783.5,461.5 787.5,478.8 791.5,492.6 795.5,485.1 799.5,488.2 803.5,485.7 807.5,479.4 811.5,470.8 815.6,459.5 819.6,447.7 823.6,442.7 827.6,430.2 831.6,431.4 835.6,438.9 839.5,439.5 843.5,439.3 847.5,435.2 851.5,430.8 855.5,421.4 859.5,402.6 864.2,379.5 867.7,371.6 871.9,371.4 875.5,366.4 879.5,363.3 883.6,366.4 887.4,363.3 891.5,361.4 895.5,352.7 899.5,340.1 903.5,335.7 907.5,336.4 911.5,332.0 915.5,330.1 919.5,324.5 923.5,325.2 927.5,323.2 931.5,323.2 935.5,319.5 939.4,326.3 943.5,330.1 947.5,334.5 951.5,337.6 955.5,338.9 959.5,330.1 963.5,325.1 967.5,312.4 971.5,304.9 975.5,302.7 979.5,298.6 983.5,294.4 987.5,300.2 991.5,300.3 995.6,300.3 999.5,301.4 1003.5,297.7 1007.5,292.7 1011.4,287.4 1015.4,286.5 1019.7,293.5 1023.5,305.8 1027.5,322.1 1031.5,336.4 1035.6,346.4 1039.6,357.1 1043.3,358.8 1047.4,351.5 1051.5,337.7 1055.5,325.2 1059.5,318.4 1063.5,317.4 1067.5,322.4 1071.5,331.4 1075.5,342.7 1079.5,349.0 1083.5,350.8 1087.5,353.3 1091.6,347.7 1095.6,335.2 1099.4,318.9 1103.5,311.4 1107.5,304.5 1111.5,308.2 1115.5,312.0 1119.5,317.6 1123.5,327.7 1127.5,337.4" fill="none" stroke="#0000cd" stroke-width="1"/>
</g>
<rect x="2" y="23" width="1417" height="1" fill="#000"/>
<rect x="2" y="563" width="1417" height="1" fill="#000"/>
<rect x="2" y="23" width="1" height="541" fill="#000"/>
<rect x="1418" y="23" width="1" height="541" fill="#000"/>
<rect x="2" y="565" width="1417" height="1" fill="#000"/>
<rect x="2" y="669" width="1417" height="1" fill="#000"/>
<rect x="2" y="565" width="1" height="105" fill="#000"/>
<rect x="1418" y="565" width="1" height="105" fill="#000"/>
<rect x="2" y="671" width="1417" height="1" fill="#000"/>
<rect x="2" y="801" width="1417" height="1" fill="#000"/>
<rect x="2" y="671" width="1" height="131" fill="#000"/>
<rect x="1418" y="671" width="1" height="131" fill="#000"/>
<rect x="1418" y="350" width="1" height="1" fill="#c0c0c0"/>
<rect x="3" y="45" width="1415" height="3" fill="#ff0000"/>
<rect x="2" y="43" width="7" height="7" fill="#ff0000"/>
<rect x="5" y="46" width="1" height="1" fill="#fff"/>
<rect x="1412" y="43" width="7" height="7" fill="#ff0000"/>
<rect x="1415" y="46" width="1" height="1" fill="#fff"/>
<rect x="3" y="149" width="1415" height="3" fill="#ff0000"/>
<rect x="2" y="147" width="7" height="7" fill="#ff0000"/>
<rect x="5" y="150" width="1" height="1" fill="#fff"/>
<rect x="1412" y="147" width="7" height="7" fill="#ff0000"/>
<rect x="1415" y="150" width="1" height="1" fill="#fff"/>
<rect x="3" y="271" width="1415" height="3" fill="#00ff00"/>
<rect x="2" y="269" width="7" height="7" fill="#00ff00"/>
<rect x="5" y="272" width="1" height="1" fill="#fff"/>
<rect x="1412" y="269" width="7" height="7" fill="#00ff00"/>
<rect x="1415" y="272" width="1" height="1" fill="#fff"/>
<rect x="3" y="426" width="1415" height="3" fill="#0000ff"/>
<rect x="3" y="513" width="1415" height="3" fill="#0000ff"/>
<g clip-path="url(#cd)">
<rect x="3" y="612" width="1" height="9" fill="#c0c0c0"/>
<rect x="7" y="612" width="1" height="12" fill="#c0c0c0"/>
<rect x="11" y="612" width="1" height="9" fill="#c0c0c0"/>
<rect x="15" y="612" width="1" height="10" fill="#c0c0c0"/>
<rect x="19" y="612" width="1" height="13" fill="#c0c0c0"/>
<rect x="23" y="612" width="1" height="15" fill="#c0c0c0"/>
<rect x="27" y="612" width="1" height="19" fill="#c0c0c0"/>
<rect x="31" y="612" width="1" height="21" fill="#c0c0c0"/>
<rect x="35" y="612" width="1" height="18" fill="#c0c0c0"/>
<rect x="39" y="612" width="1" height="16" fill="#c0c0c0"/>
<rect x="43" y="612" width="1" height="16" fill="#c0c0c0"/>
<rect x="47" y="612" width="1" height="15" fill="#c0c0c0"/>
<rect x="51" y="612" width="1" height="19" fill="#c0c0c0"/>
<rect x="55" y="612" width="1" height="20" fill="#c0c0c0"/>
<rect x="59" y="612" width="1" height="25" fill="#c0c0c0"/>
<rect x="63" y="612" width="1" height="23" fill="#c0c0c0"/>
<rect x="67" y="612" width="1" height="21" fill="#c0c0c0"/>
<rect x="71" y="612" width="1" height="19" fill="#c0c0c0"/>
<rect x="75" y="612" width="1" height="19" fill="#c0c0c0"/>
<rect x="79" y="612" width="1" height="15" fill="#c0c0c0"/>
<rect x="83" y="612" width="1" height="10" fill="#c0c0c0"/>
<rect x="87" y="612" width="1" height="4" fill="#c0c0c0"/>
<rect x="91" y="610" width="1" height="2" fill="#c0c0c0"/>
<rect x="95" y="606" width="1" height="6" fill="#c0c0c0"/>
<rect x="99" y="601" width="1" height="11" fill="#c0c0c0"/>
<rect x="103" y="598" width="1" height="14" fill="#c0c0c0"/>
<rect x="107" y="597" width="1" height="15" fill="#c0c0c0"/>
<rect x="111" y="596" width="1" height="16" fill="#c0c0c0"/>
<rect x="115" y="597" width="1" height="15" fill="#c0c0c0"/>
<rect x="119" y="598" width="1" height="14" fill="#c0c0c0"/>
<rect x="123" y="599" width="1" height="13" fill="#c0c0c0"/>
<rect x="127" y="599" width="1" height="13" fill="#c0c0c0"/>
<rect x="131" y="599" width="1" height="13" fill="#c0c0c0"/>
<rect x="135" y="600" width="1" height="12" fill="#c0c0c0"/>
<rect x="139" y="599" width="1" height="13" fill="#c0c0c0"/>
<rect x="143" y="599" width="1" height="13" fill="#c0c0c0"/>
<rect x="147" y="597" width="1" height="15" fill="#c0c0c0"/>
<rect x="151" y="595" width="1" height="17" fill="#c0c0c0"/>
<rect x="155" y="592" width="1" height="20" fill="#c0c0c0"/>
<rect x="159" y="590" width="1" height="22" fill="#c0c0c0"/>
<rect x="163" y="590" width="1" height="22" fill="#c0c0c0"/>
<rect x="167" y="591" width="1" height="21" fill="#c0c0c0"/>
<rect x="171" y="588" width="1" height="24" fill="#c0c0c0"/>
<rect x="175" y="586" width="1" height="26" fill="#c0c0c0"/>
<rect x="179" y="583" width="1" height="29" fill="#c0c0c0"/>
<rect x="183" y="583" width="1" height="29" fill="#c0c0c0"/>
<rect x="187" y="583" width="1" height="29" fill="#c0c0c0"/>
<rect x="191" y="584" width="1" height="28" fill="#c0c0c0"/>
<rect x="195" y="585" width="1" height="27" fill="#c0c0c0"/>
<rect x="199" y="588" width="1" height="24" fill="#c0c0c0"/>
<rect x="203" y="591" width="1" height="21" fill="#c0c0c0"/>
<rect x="207" y="594" width="1" height="18" fill="#c0c0c0"/>
<rect x="211" y="596" width="1" height="16" fill="#c0c0c0"/>
<rect x="215" y="598" width="1" height="14" fill="#c0c0c0"/>
<rect x="219" y="600" width="1" height="12" fill="#c0c0c0"/>
<rect x="223" y="602" width="1" height="10" fill="#c0c0c0"/>
<rect x="227" y="603" width="1" height="9" fill="#c0c0c0"/>
<rect x="231" y="606" width="1" height="6" fill="#c0c0c0"/>
<rect x="235" y="607" width="1" height="5" fill="#c0c0c0"/>
<rect x="239" y="608" width="1" height="4" fill="#c0c0c0"/>
<rect x="243" y="609" width="1" height="3" fill="#c0c0c0"/>
<rect x="247" y="607" width="1" height="5" fill="#c0c0c0"/>
<rect x="251" y="605" width="1" height="7" fill="#c0c0c0"/>
<rect x="255" y="600" width="1" height="12" fill="#c0c0c0"/>
<rect x="259" y="598" width="1" height="14" fill="#c0c0c0"/>
<rect x="263" y="596" width="1" height="16" fill="#c0c0c0"/>
<rect x="267" y="594" width="1" height="18" fill="#c0c0c0"/>
<rect x="271" y="594" width="1" height="18" fill="#c0c0c0"/>
<rect x="275" y="596" width="1" height="16" fill="#c0c0c0"/>
<rect x="279" y="598" width="1" height="14" fill="#c0c0c0"/>
<rect x="283" y="601" width="1" height="11" fill="#c0c0c0"/>
<rect x="287" y="603" width="1" height="9" fill="#c0c0c0"/>
<rect x="291" y="605" width="1" height="7" fill="#c0c0c0"/>
<rect x="295" y="609" width="1" height="3" fill="#c0c0c0"/>
<rect x="299" y="612" width="1" height="4" fill="#c0c0c0"/>
<rect x="303" y="612" width="1" height="9" fill="#c0c0c0"/>
<rect x="307" y="612" width="1" height="11" fill="#c0c0c0"/>
<rect x="311" y="612" width="1" height="13" fill="#c0c0c0"/>
<rect x="315" y="612" width="1" height="16" fill="#c0c0c0"/>
<rect x="319" y="612" width="1" height="17" fill="#c0c0c0"/>
<rect x="323" y="612" width="1" height="17" fill="#c0c0c0"/>
<rect x="327" y="612" width="1" height="16" fill="#c0c0c0"/>
<rect x="331" y="612" width="1" height="15" fill="#c0c0c0"/>
<rect x="335" y="612" width="1" height="15" fill="#c0c0c0"/>
<rect x="339" y="612" width="1" height="12" fill="#c0c0c0"/>
<rect x="343" y="612" width="1" height="10" fill="#c0c0c0"/>
<rect x="347" y="612" width="1" height="9" fill="#c0c0c0"/>
<rect x="351" y="612" width="1" height="6" fill="#c0c0c0"/>
<rect x="355" y="612" width="1" height="4" fill="#c0c0c0"/>
<rect x="359" y="612" width="1" height="3" fill="#c0c0c0"/>
<rect x="363" y="612" width="1" height="2" fill="#c0c0c0"/>
<rect x="367" y="612" width="1" height="1" fill="#c0c0c0"/>
<rect x="371" y="611" width="1" height="1" fill="#c0c0c0"/>
<rect x="375" y="609" width="1" height="3" fill="#c0c0c0"/>
<rect x="379" y="607" width="1" height="5" fill="#c0c0c0"/>
<rect x="383" y="606" width="1" height="6" fill="#c0c0c0"/>
<rect x="387" y="604" width="1" height="8" fill="#c0c0c0"/>
<rect x="391" y="601" width="1" height="11" fill="#c0c0c0"/>
<rect x="395" y="597" width="1" height="15" fill="#c0c0c0"/>
<rect x="399" y="591" width="1" height="21" fill="#c0c0c0"/>
<rect x="403" y="587" width="1" height="25" fill="#c0c0c0"/>
<rect x="407" y="583" width="1" height="29" fill="#c0c0c0"/>
<rect x="411" y="578" width="1" height="34" fill="#c0c0c0"/>
<rect x="415" y="575" width="1" height="37" fill="#c0c0c0"/>
<rect x="419" y="572" width="1" height="40" fill="#c0c0c0"/>
<rect x="423" y="572" width="1" height="40" fill="#c0c0c0"/>
<rect x="427" y="571" width="1" height="41" fill="#c0c0c0"/>
<rect x="431" y="571" width="1" height="41" fill="#c0c0c0"/>
<rect x="435" y="572" width="1" height="40" fill="#c0c0c0"/>
<rect x="439" y="574" width="1" height="38" fill="#c0c0c0"/>
<rect x="443" y="575" width="1" height="37" fill="#c0c0c0"/>
<rect x="447" y="577" width="1" height="35" fill="#c0c0c0"/>
<rect x="451" y="580" width="1" height="32" fill="#c0c0c0"/>
<rect x="455" y="582" width="1" height="30" fill="#c0c0c0"/>
<rect x="459" y="583" width="1" height="29" fill="#c0c0c0"/>
<rect x="463" y="583" width="1" height="29" fill="#c0c0c0"/>
<rect x="467" y="587" width="1" height="25" fill="#c0c0c0"/>
<rect x="471" y="591" width="1" height="21" fill="#c0c0c0"/>
<rect x="475" y="596" width="1" height="16" fill="#c0c0c0"/>
<rect x="479" y="604" width="1" height="8" fill="#c0c0c0"/>
<rect x="483" y="607" width="1" height="5" fill="#c0c0c0"/>
<rect x="487" y="611" width="1" height="1" fill="#c0c0c0"/>
<rect x="495" y="612" width="1" height="1" fill="#c0c0c0"/>
<rect x="499" y="612" width="1" height="2" fill="#c0c0c0"/>
<rect x="503" y="612" width="1" height="3" fill="#c0c0c0"/>
<rect x="507" y="612" width="1" height="3" fill="#c0c0c0"/>
<rect x="511" y="612" width="1" height="4" fill="#c0c0c0"/>
<rect x="515" y="612" width="1" height="9" fill="#c0c0c0"/>
<rect x="519" y="612" width="1" height="13" fill="#c0c0c0"/>
<rect x="523" y="612" width="1" height="16" fill="#c0c0c0"/>
<rect x="527" y="612" width="1" height="17" fill="#c0c0c0"/>
<rect x="531" y="612" width="1" height="15" fill="#c0c0c0"/>
<rect x="535" y="612" width="1" height="13" fill="#c0c0c0"/>
<rect x="539" y="612" width="1" height="12" fill="#c0c0c0"/>
<rect x="543" y="612" width="1" height="15" fill="#c0c0c0"/>
<rect x="547" y="612" width="1" height="18" fill="#c0c0c0"/>
<rect x="551" y="612" width="1" height="24" fill="#c0c0c0"/>
<rect x="555" y="612" width="1" height="29" fill="#c0c0c0"/>
<rect x="559" y="612" width="1" height="31" fill="#c0c0c0"/>
<rect x="563" y="612" width="1" height="34" fill="#c0c0c0"/>
<rect x="567" y="612" width="1" height="39" fill="#c0c0c0"/>
<rect x="571" y="612" width="1" height="40" fill="#c0c0c0"/>
<rect x="575" y="612" width="1" height="41" fill="#c0c0c0"/>
<rect x="579" y="612" width="1" height="39" fill="#c0c0c0"/>
<rect x="583" y="612" width="1" height="36" fill="#c0c0c0"/>
<rect x="587" y="612" width="1" height="34" fill="#c0c0c0"/>
<rect x="591" y="612" width="1" height="29" fill="#c0c0c0"/>
<rect x="595" y="612" width="1" height="25" fill="#c0c0c0"/>
<rect x="599" y="612" width="1" height="21" fill="#c0c0c0"/>
<rect x="603" y="612" width="1" height="17" fill="#c0c0c0"/>
<rect x="607" y="612" width="1" height="18" fill="#c0c0c0"/>
<rect x="611" y="612" width="1" height="26" fill="#c0c0c0"/>
<rect x="615" y="612" width="1" height="34" fill="#c0c0c0"/>
<rect x="619" y="612" width="1" height="41" fill="#c0c0c0"/>
<rect x="623" y="612" width="1" height="48" fill="#c0c0c0"/>
<rect x="627" y="612" width="1" height="51" fill="#c0c0c0"/>
<rect x="631" y="612" width="1" height="51" fill="#c0c0c0"/>
<rect x="635" y="612" width="1" height="51" fill="#c0c0c0"/>
<rect x="639" y="612" width="1" height="52" fill="#c0c0c0"/>
<rect x="643" y="612" width="1" height="49" fill="#c0c0c0"/>
<rect x="647" y="612" width="1" height="42" fill="#c0c0c0"/>
<rect x="651" y="612" width="1" height="36" fill="#c0c0c0"/>
<rect x="655" y="612" width="1" height="32" fill="#c0c0c0"/>
<rect x="659" y="612" width="1" height="29" fill="#c0c0c0"/>
<rect x="663" y="612" width="1" height="21" fill="#c0c0c0"/>
<rect x="667" y="612" width="1" height="16" fill="#c0c0c0"/>
<rect x="671" y="612" width="1" height="10" fill="#c0c0c0"/>
<rect x="675" y="612" width="1" height="5" fill="#c0c0c0"/>
<rect x="679" y="612" width="1" height="5" fill="#c0c0c0"/>
<rect x="683" y="612" width="1" height="3" fill="#c0c0c0"/>
<rect x="687" y="612" width="1" height="5" fill="#c0c0c0"/>
<rect x="691" y="612" width="1" height="7" fill="#c0c0c0"/>
<rect x="695" y="612" width="1" height="8" fill="#c0c0c0"/>
<rect x="699" y="612" width="1" height="6" fill="#c0c0c0"/>
<rect x="703" y="612" width="1" height="6" fill="#c0c0c0"/>
<rect x="707" y="612" width="1" height="8" fill="#c0c0c0"/>
<rect x="711" y="612" width="1" height="10" fill="#c0c0c0"/>
<rect x="715" y="612" width="1" height="11" fill="#c0c0c0"/>
<rect x="719" y="612" width="1" height="11" fill="#c0c0c0"/>
<rect x="723" y="612" width="1" height="10" fill="#c0c0c0"/>
<rect x="727" y="612" width="1" height="10" fill="#c0c0c0"/>
<rect x="731" y="612" width="1" height="5" fill="#c0c0c0"/>
<rect x="739" y="608" width="1" height="4" fill="#c0c0c0"/>
<rect x="743" y="607" width="1" height="5" fill="#c0c0c0"/>
<rect x="747" y="606" width="1" height="6" fill="#c0c0c0"/>
<rect x="751" y="604" width="1" height="8" fill="#c0c0c0"/>
<rect x="755" y="604" width="1" height="8" fill="#c0c0c0"/>
<rect x="759" y="609" width="1" height="3" fill="#c0c0c0"/>
<rect x="763" y="612" width="1" height="1" fill="#c0c0c0"/>
<rect x="767" y="612" width="1" height="11" fill="#c0c0c0"/>
<rect x="771" y="612" width="1" height="15" fill="#c0c0c0"/>
<rect x="775" y="612" width="1" height="19" fill="#c0c0c0"/>
<rect x="779" y="612" width="1" height="23" fill="#c0c0c0"/>
<rect x="783" y="612" width="1" height="26" fill="#c0c0c0"/>
<rect x="787" y="612" width="1" height="29" fill="#c0c0c0"/>
<rect x="791" y="612" width="1" height="33" fill="#c0c0c0"/>
<rect x="795" y="612" width="1" height="31" fill="#c0c0c0"/>
<rect x="799" y="612" width="1" height="30" fill="#c0c0c0"/>
<rect x="803" y="612" width="1" height="28" fill="#c0c0c0"/>
<rect x="807" y="612" width="1" height="25" fill="#c0c0c0"/>
<rect x="811" y="612" width="1" height="21" fill="#c0c0c0"/>
<rect x="815" y="612" width="1" height="17" fill="#c0c0c0"/>
<rect x="819" y="612" width="1" height="16" fill="#c0c0c0"/>
<rect x="823" y="612" width="1" height="12" fill="#c0c0c0"/>
<rect x="827" y="612" width="1" height="8" fill="#c0c0c0"/>
<rect x="831" y="612" width="1" height="10" fill="#c0c0c0"/>
<rect x="835" y="612" width="1" height="13" fill="#c0c0c0"/>
<rect x="839" y="612" width="1" height="11" fill="#c0c0c0"/>
<rect x="843" y="612" width="1" height="8" fill="#c0c0c0"/>
<rect x="847" y="612" width="1" height="6" fill="#c0c0c0"/>
<rect x="851" y="612" width="1" height="1" fill="#c0c0c0"/>
<rect x="855" y="607" width="1" height="5" fill="#c0c0c0"/>
<rect x="859" y="602" width="1" height="10" fill="#c0c0c0"/>
<rect x="863" y="599" width="1" height="13" fill="#c0c0c0"/>
<rect x="867" y="598" width="1" height="14" fill="#c0c0c0"/>
<rect x="871" y="601" width="1" height="11" fill="#c0c0c0"/>
<rect x="875" y="601" width="1" height="11" fill="#c0c0c0"/>
<rect x="879" y="599" width="1" height="13" fill="#c0c0c0"/>
<rect x="883" y="598" width="1" height="14" fill="#c0c0c0"/>
<rect x="887" y="595" width="1" height="17" fill="#c0c0c0"/>
<rect x="891" y="593" width="1" height="19" fill="#c0c0c0"/>
<rect x="895" y="591" width="1" height="21" fill="#c0c0c0"/>
<rect x="899" y="591" width="1" height="21" fill="#c0c0c0"/>
<rect x="903" y="591" width="1" height="21" fill="#c0c0c0"/>
<rect x="907" y="594" width="1" height="18" fill="#c0c0c0"/>
<rect x="911" y="593" width="1" height="19" fill="#c0c0c0"/>
<rect x="915" y="592" width="1" height="20" fill="#c0c0c0"/>
<rect x="919" y="589" width="1" height="23" fill="#c0c0c0"/>
<rect x="923" y="590" width="1" height="22" fill="#c0c0c0"/>
<rect x="927" y="591" width="1" height="21" fill="#c0c0c0"/>
<rect x="931" y="593" width="1" height="19" fill="#c0c0c0"/>
<rect x="935" y="595" width="1" height="17" fill="#c0c0c0"/>
<rect x="939" y="599" width="1" height="13" fill="#c0c0c0"/>
<rect x="943" y="600" width="1" height="12" fill="#c0c0c0"/>
<rect x="947" y="599" width="1" height="13" fill="#c0c0c0"/>
<rect x="951" y="600" width="1" height="12" fill="#c0c0c0"/>
<rect x="955" y="601" width="1" height="11" fill="#c0c0c0"/>
<rect x="959" y="598" width="1" height="14" fill="#c0c0c0"/>
<rect x="963" y="598" width="1" height="14" fill="#c0c0c0"/>
<rect x="967" y="596" width="1" height="16" fill="#c0c0c0"/>
<rect x="971" y="595" width="1" height="17" fill="#c0c0c0"/>
<rect x="975" y="595" width="1" height="17" fill="#c0c0c0"/>
<rect x="979" y="596" width="1" height="16" fill="#c0c0c0"/>
<rect x="983" y="597" width="1" height="15" fill="#c0c0c0"/>
<rect x="987" y="599" width="1" height="13" fill="#c0c0c0"/>
<rect x="991" y="600" width="1" height="12" fill="#c0c0c0"/>
<rect x="995" y="600" width="1" height="12" fill="#c0c0c0"/>
<rect x="999" y="598" width="1" height="14" fill="#c0c0c0"/>
<rect x="1003" y="597" width="1" height="15" fill="#c0c0c0"/>
<rect x="1007" y="597" width="1" height="15" fill="#c0c0c0"/>
<rect x="1011" y="596" width="1" height="16" fill="#c0c0c0"/>
<rect x="1015" y="598" width="1" height="14" fill="#c0c0c0"/>
<rect x="1019" y="604" width="1" height="8" fill="#c0c0c0"/>
<rect x="1023" y="610" width="1" height="2" fill="#c0c0c0"/>
<rect x="1027" y="612" width="1" height="3" fill="#c0c0c0"/>
<rect x="1031" y="612" width="1" height="6" fill="#c0c0c0"/>
<rect x="1035" y="612" width="1" height="7" fill="#c0c0c0"/>
<rect x="1039" y="612" width="1" height="6" fill="#c0c0c0"/>
<rect x="1043" y="612" width="1" height="5" fill="#c0c0c0"/>
<rect x="1047" y="612" width="1" height="2" fill="#c0c0c0"/>
<rect x="1055" y="611" width="1" height="1" fill="#c0c0c0"/>
<rect x="1059" y="610" width="1" height="2" fill="#c0c0c0"/>
<rect x="1067" y="612" width="1" height="3" fill="#c0c0c0"/>
<rect x="1071" y="612" width="1" height="6" fill="#c0c0c0"/>
<rect x="1075" y="612" width="1" height="8" fill="#c0c0c0"/>
<rect x="1079" y="612" width="1" height="9" fill="#c0c0c0"/>
<rect x="1083" y="612" width="1" height="6" fill="#c0c0c0"/>
<rect x="1087" y="612" width="1" height="4" fill="#c0c0c0"/>
<rect x="1091" y="612" width="1" height="1" fill="#c0c0c0"/>
<rect x="1095" y="609" width="1" height="3" fill="#c0c0c0"/>
<rect x="1099" y="606" width="1" height="6" fill="#c0c0c0"/>
<rect x="1103" y="607" width="1" height="5" fill="#c0c0c0"/>
<rect x="1107" y="607" width="1" height="5" fill="#c0c0c0"/>
<rect x="1111" y="609" width="1" height="3" fill="#c0c0c0"/>
<rect x="1119" y="612" width="1" height="1" fill="#c0c0c0"/>
<rect x="1123" y="612" width="1" height="2" fill="#c0c0c0"/>
<rect x="1127" y="612" width="1" height="3" fill="#c0c0c0"/>
<polyline points="3.5,620.1 7.5,620.6 11.5,620.6 15.5,620.9 19.5,621.4 23.5,622.2 27.5,623.4 31.5,624.8 35.5,625.9 39.5,626.7 43.5,627.1 47.5,627.9 51.5,628.8 55.5,629.6 59.5,630.8 63.5,631.2 67.5,631.2 71.5,631.4 75.5,631.6 79.5,631.5 83.5,630.9 87.5,629.3 91.5,626.9 95.5,623.3 99.5,619.6 103.5,615.7 107.5,611.9 111.5,608.0 115.5,604.7 119.5,602.0 123.5,600.2 127.5,598.9 131.5,598.2 135.5,598.0 139.5,598.1 143.5,598.3 147.5,598.5 151.5,598.3 155.5,597.7 159.5,596.7 163.5,595.7 167.5,594.7 171.5,593.5 175.5,592.0 179.5,590.3 183.5,588.6 187.5,587.3 191.5,586.4 195.5,585.8 199.5,585.6 203.5,585.7 207.5,586.3 211.5,587.4 215.5,589.1 219.5,591.1 223.5,593.2 227.5,595.3 231.5,597.7 235.5,599.8 239.5,601.7 243.5,603.4 247.5,604.6 251.5,605.3 255.5,605.2 259.5,604.7 263.5,603.9 267.5,602.5 271.5,601.0 275.5,599.7 279.5,598.4 283.5,597.8 287.5,597.5 291.5,598.2 295.5,599.3 299.5,601.5 303.5,604.6 307.5,607.9 311.5,611.2 315.5,614.5 319.5,617.7 323.5,620.6 327.5,623.1 331.5,625.2 335.5,626.4 339.5,626.7 343.5,626.5 347.5,626.0 351.5,624.9 355.5,623.5 359.5,621.9 363.5,620.4 367.5,618.8 371.5,617.1 375.5,615.4 379.5,613.8 383.5,612.2 387.5,610.6 391.5,608.9 395.5,606.9 399.5,604.3 403.5,601.3 407.5,598.3 411.5,594.9 415.5,591.3 419.5,587.6 423.5,583.9 427.5,580.6 431.5,577.8 435.5,575.7 439.5,574.3 443.5,573.4 447.5,573.3 451.5,573.9 455.5,575.0 459.5,576.2 463.5,577.5 467.5,579.2 471.5,581.3 475.5,583.8 479.5,587.0 483.5,590.3 487.5,593.8 491.5,597.1 495.5,600.5 499.5,603.9 503.5,607.1 507.5,609.8 511.5,612.0 515.5,613.9 519.5,615.8 523.5,617.7 527.5,619.5 531.5,621.1 535.5,622.4 539.5,623.4 543.5,624.8 547.5,626.3 551.5,628.0 555.5,629.8 559.5,631.4 563.5,633.4 567.5,636.0 571.5,638.9 575.5,642.1 579.5,644.8 583.5,646.8 587.5,647.9 591.5,647.9 595.5,647.2 599.5,645.8 603.5,643.4 607.5,641.0 611.5,639.3 615.5,638.6 619.5,639.1 623.5,640.6 627.5,643.0 631.5,646.0 635.5,649.4 639.5,653.2 643.5,656.7 647.5,658.4 651.5,658.7 655.5,657.7 659.5,655.6 663.5,652.4 667.5,648.4 671.5,643.8 675.5,638.6 679.5,633.6 683.5,629.3 687.5,625.8 691.5,623.0 695.5,620.7 699.5,619.0 703.5,617.9 707.5,617.8 711.5,618.3 715.5,619.0 719.5,620.0 723.5,620.6 727.5,620.9 731.5,620.7 735.5,620.0 739.5,618.9 743.5,617.4 747.5,615.7 751.5,613.6 755.5,611.4 759.5,609.9 763.5,608.9 767.5,609.5 771.5,611.2 775.5,613.7 779.5,616.9 783.5,620.4 787.5,624.6 791.5,629.1 795.5,632.9 799.5,636.2 803.5,638.1 807.5,639.1 811.5,639.4 815.5,638.7 819.5,637.6 823.5,635.6 827.5,632.9 831.5,630.7 835.5,628.7 839.5,626.8 843.5,625.0 847.5,623.2 851.5,621.4 855.5,619.1 859.5,616.7 863.5,614.3 867.5,611.6 871.5,609.0 875.5,606.5 879.5,604.2 883.5,602.0 887.5,600.0 891.5,598.5 895.5,597.2 899.5,596.3 903.5,595.6 907.5,594.8 911.5,593.9 915.5,593.1 919.5,592.1 923.5,591.5 927.5,591.3 931.5,591.6 935.5,592.0 939.5,593.0 943.5,593.6 947.5,594.3 951.5,595.2 955.5,596.5 959.5,597.3 963.5,598.1 967.5,598.5 971.5,598.4 975.5,598.0 979.5,597.6 983.5,597.3 987.5,597.2 991.5,597.1 995.5,597.3 999.5,597.3 1003.5,597.4 1007.5,597.7 1011.5,597.8 1015.5,598.0 1019.5,598.8 1023.5,600.1 1027.5,601.8 1031.5,603.9 1035.5,606.1 1039.5,608.4 1043.5,610.6 1047.5,612.6 1051.5,614.2 1055.5,614.9 1059.5,614.9 1063.5,614.5 1067.5,614.2 1071.5,614.2 1075.5,614.4 1079.5,614.8 1083.5,615.3 1087.5,615.7 1091.5,616.0 1095.5,616.0 1099.5,615.4 1103.5,614.4 1107.5,613.2 1111.5,611.9 1115.5,610.9 1119.5,610.3 1123.5,610.1 1127.5,610.3" fill="none" stroke="#ff0000" stroke-width="1" stroke-dasharray="3,3"/>
</g>
<g clip-path="url(#cr)">
<line x1="3" x2="1418" y1="711.5" y2="711.5" stroke="#c0c0c0" stroke-dasharray="3,3"/>
<line x1="3" x2="1418" y1="762.5" y2="762.5" stroke="#c0c0c0" stroke-dasharray="3,3"/>
<polyline points="3.5,750.2 7.5,748.4 11.5,735.6 15.5,744.9 19.5,746.6 23.5,748.9 27.5,751.9 31.5,749.8 35.5,738.4 39.5,741.2 43.5,742.4 47.5,743.2 51.5,751.5 55.5,748.8 59.5,756.5 63.5,740.6 67.5,740.1 71.5,740.6 75.5,743.9 79.5,735.6 83.5,731.9 87.5,727.6 91.5,726.1 95.5,725.7 99.5,723.2 103.5,724.2 107.5,729.0 111.5,727.6 115.5,732.8 119.5,733.3 123.5,735.0 127.5,729.5 131.5,732.0 135.5,731.4 139.5,728.9 143.5,728.2 147.5,723.9 151.5,720.7 155.5,716.5 159.5,716.0 163.5,723.9 167.5,725.3 171.5,717.1 175.5,714.2 179.5,710.3 183.5,721.7 187.5,722.0 191.5,722.5 195.5,722.9 199.5,732.2 203.5,734.7 207.5,732.8 211.5,735.5 215.5,736.1 219.5,735.2 223.5,736.8 227.5,734.6 231.5,744.4 235.5,737.0 239.5,739.4 243.5,738.0 247.5,723.5 251.5,724.8 255.5,712.5 259.5,723.4 263.5,721.9 267.5,718.3 271.5,726.1 275.5,735.7 279.5,735.3 283.5,738.1 287.5,737.9 291.5,741.2 295.5,746.3 299.5,759.5 303.5,756.8 307.5,750.2 311.5,750.8 315.5,753.9 319.5,749.6 323.5,747.0 327.5,746.2 331.5,743.2 335.5,745.0 339.5,733.6 343.5,736.8 347.5,739.4 351.5,732.4 355.5,733.0 359.5,732.0 363.5,738.4 367.5,733.7 371.5,727.3 375.5,725.9 379.5,726.4 383.5,727.3 387.5,724.0 391.5,715.1 395.5,710.0 399.5,703.8 403.5,707.5 407.5,706.1 411.5,700.6 415.5,700.4 419.5,702.1 423.5,705.9 427.5,705.2 431.5,705.2 435.5,707.2 439.5,715.4 443.5,711.4 447.5,717.8 451.5,723.0 455.5,720.9 459.5,715.7 463.5,714.4 467.5,732.4 471.5,740.1 475.5,745.0 479.5,754.8 483.5,745.4 487.5,746.8 491.5,741.8 495.5,739.4 499.5,740.1 503.5,745.3 507.5,738.5 511.5,743.3 515.5,754.3 519.5,756.8 523.5,754.8 527.5,748.9 531.5,741.4 535.5,738.5 539.5,741.8 543.5,753.1 547.5,754.8 551.5,763.4 555.5,763.6 559.5,758.9 563.5,762.4 567.5,767.3 571.5,758.6 575.5,759.7 579.5,751.9 583.5,746.3 587.5,748.5 591.5,737.3 595.5,737.7 599.5,738.5 603.5,734.2 607.5,747.9 611.5,760.9 615.5,764.3 619.5,765.4 623.5,768.0 627.5,762.3 631.5,757.0 635.5,757.9 639.5,759.3 643.5,750.5 647.5,738.0 651.5,740.6 655.5,740.1 659.5,741.6 663.5,730.7 667.5,731.5 671.5,727.6 675.5,729.0 679.5,738.1 683.5,734.3 687.5,743.5 691.5,743.6 695.5,743.2 699.5,736.9 703.5,738.9 707.5,745.4 711.5,745.7 715.5,744.8 719.5,745.1 723.5,739.4 727.5,740.9 731.5,728.8 735.5,723.8 739.5,725.9 743.5,729.6 747.5,733.3 751.5,726.1 755.5,734.6 759.5,746.6 763.5,745.9 767.5,759.6 771.5,750.7 775.5,751.6 779.5,752.6 783.5,754.6 787.5,755.4 791.5,758.0 795.5,744.7 799.5,748.3 803.5,742.9 807.5,740.1 811.5,738.1 815.5,735.1 819.5,740.4 823.5,733.8 827.5,731.6 831.5,745.4 835.5,747.1 839.5,737.5 843.5,734.8 847.5,734.3 851.5,728.0 855.5,722.6 859.5,724.8 863.5,723.4 867.5,730.2 871.5,739.4 875.5,732.0 879.5,729.8 883.5,729.2 887.5,724.2 891.5,725.7 895.5,723.0 899.5,729.0 903.5,728.1 907.5,735.9 911.5,727.1 915.5,727.6 919.5,722.0 923.5,729.8 927.5,731.6 931.5,732.4 935.5,735.2 939.5,741.1 943.5,732.8 947.5,729.6 951.5,734.7 955.5,733.7 959.5,724.3 963.5,732.9 967.5,727.5 971.5,726.1 975.5,731.2 979.5,733.1 983.5,731.6 987.5,735.8 991.5,734.8 995.5,729.8 999.5,727.7 1003.5,726.3 1007.5,727.7 1011.5,726.1 1015.5,735.8 1019.5,747.7 1023.5,751.0 1027.5,751.4 1031.5,748.7 1035.5,741.4 1039.5,739.0 1043.5,735.1 1047.5,730.9 1051.5,731.7 1055.5,730.5 1059.5,732.5 1063.5,743.8 1067.5,748.5 1071.5,749.8 1075.5,749.6 1079.5,742.7 1083.5,732.9 1087.5,733.5 1091.5,728.5 1095.5,723.2 1099.5,724.0 1103.5,734.7 1107.5,735.8 1111.5,742.4 1115.5,744.3 1119.5,740.6 1123.5,743.4 1127.5,743.3" fill="none" stroke="#1e90ff" stroke-width="1"/>
</g>
<rect x="3" y="802" width="1" height="3" fill="#000"/>
<rect x="67" y="802" width="1" height="3" fill="#000"/>
<rect x="131" y="802" width="1" height="3" fill="#000"/>
<rect x="195" y="802" width="1" height="3" fill="#000"/>
<rect x="259" y="802" width="1" height="3" fill="#000"/>
<rect x="323" y="802" width="1" height="3" fill="#000"/>
<rect x="387" y="802" width="1" height="3" fill="#000"/>
<rect x="451" y="802" width="1" height="3" fill="#000"/>
<rect x="515" y="802" width="1" height="3" fill="#000"/>
<rect x="579" y="802" width="1" height="3" fill="#000"/>
<rect x="643" y="802" width="1" height="3" fill="#000"/>
<rect x="707" y="802" width="1" height="3" fill="#000"/>
<rect x="771" y="802" width="1" height="3" fill="#000"/>
<rect x="835" y="802" width="1" height="3" fill="#000"/>
<rect x="899" y="802" width="1" height="3" fill="#000"/>
<rect x="963" y="802" width="1" height="3" fill="#000"/>
<rect x="1027" y="802" width="1" height="3" fill="#000"/>
<rect x="1091" y="802" width="1" height="3" fill="#000"/>
<text x="2.4" y="814" font-size="10.2" fill="#000" text-anchor="start" textLength="52" lengthAdjust="spacingAndGlyphs" stroke="#000" stroke-width="0.2">24 Dec 2018</text>
<text x="66.4" y="814" font-size="10.2" fill="#000" text-anchor="start" textLength="49.5" lengthAdjust="spacingAndGlyphs" stroke="#000" stroke-width="0.2">11 Jan 2019</text>
<text x="130.4" y="814" font-size="10.2" fill="#000" text-anchor="start" textLength="49.8" lengthAdjust="spacingAndGlyphs" stroke="#000" stroke-width="0.2">30 Jan 2019</text>
<text x="194.4" y="814" font-size="10.2" fill="#000" text-anchor="start" textLength="52.2" lengthAdjust="spacingAndGlyphs" stroke="#000" stroke-width="0.2">18 Feb 2019</text>
<text x="258.4" y="814" font-size="10.2" fill="#000" text-anchor="start" textLength="46.7" lengthAdjust="spacingAndGlyphs" stroke="#000" stroke-width="0.2">8 Mar 2019</text>
<text x="322.4" y="814" font-size="10.2" fill="#000" text-anchor="start" textLength="51.6" lengthAdjust="spacingAndGlyphs" stroke="#000" stroke-width="0.2">27 Mar 2019</text>
<text x="386.4" y="814" font-size="10.2" fill="#000" text-anchor="start" textLength="50.8" lengthAdjust="spacingAndGlyphs" stroke="#000" stroke-width="0.2">15 Apr 2019</text>
<text x="450.4" y="814" font-size="10.2" fill="#000" text-anchor="start" textLength="50.5" lengthAdjust="spacingAndGlyphs" stroke="#000" stroke-width="0.2">5 May 2019</text>
<text x="514.4" y="814" font-size="10.2" fill="#000" text-anchor="start" textLength="54.8" lengthAdjust="spacingAndGlyphs" stroke="#000" stroke-width="0.2">23 May 2019</text>
<text x="578.4" y="814" font-size="10.2" fill="#000" text-anchor="start" textLength="49.2" lengthAdjust="spacingAndGlyphs" stroke="#000" stroke-width="0.2">11 Jun 2019</text>
<text x="642.4" y="814" font-size="10.2" fill="#000" text-anchor="start" textLength="49.8" lengthAdjust="spacingAndGlyphs" stroke="#000" stroke-width="0.2">30 Jun 2019</text>
<text x="706.4" y="814" font-size="10.2" fill="#000" text-anchor="start" textLength="46.5" lengthAdjust="spacingAndGlyphs" stroke="#000" stroke-width="0.2">18 Jul 2019</text>
<text x="770.4" y="814" font-size="10.2" fill="#000" text-anchor="start" textLength="48.5" lengthAdjust="spacingAndGlyphs" stroke="#000" stroke-width="0.2">6 Aug 2019</text>
<text x="834.4" y="814" font-size="10.2" fill="#000" text-anchor="start" textLength="53.3" lengthAdjust="spacingAndGlyphs" stroke="#000" stroke-width="0.2">25 Aug 2019</text>
<text x="898.4" y="814" font-size="10.2" fill="#000" text-anchor="start" textLength="51.7" lengthAdjust="spacingAndGlyphs" stroke="#000" stroke-width="0.2">12 Sep 2019</text>
<text x="962.4" y="814" font-size="10.2" fill="#000" text-anchor="start" textLength="46" lengthAdjust="spacingAndGlyphs" stroke="#000" stroke-width="0.2">1 Oct 2019</text>
<text x="1026.4" y="814" font-size="10.2" fill="#000" text-anchor="start" textLength="50.5" lengthAdjust="spacingAndGlyphs" stroke="#000" stroke-width="0.2">20 Oct 2019</text>
<text x="1090.4" y="814" font-size="10.2" fill="#000" text-anchor="start" textLength="49" lengthAdjust="spacingAndGlyphs" stroke="#000" stroke-width="0.2">7 Nov 2019</text>
<rect x="1419" y="32" width="2" height="1" fill="#000"/>
<text x="1424.5" y="36" font-size="10.2" fill="#000" text-anchor="start" textLength="32.8" lengthAdjust="spacingAndGlyphs" stroke="#000" stroke-width="0.2">1.02570</text>
<rect x="1419" y="65" width="2" height="1" fill="#000"/>
<text x="1424.5" y="69" font-size="10.2" fill="#000" text-anchor="start" textLength="32.8" lengthAdjust="spacingAndGlyphs" stroke="#000" stroke-width="0.2">1.02190</text>
<rect x="1419" y="98" width="2" height="1" fill="#000"/>
<text x="1424.5" y="102" font-size="10.2" fill="#000" text-anchor="start" textLength="32.8" lengthAdjust="spacingAndGlyphs" stroke="#000" stroke-width="0.2">1.01810</text>
<rect x="1419" y="131" width="2" height="1" fill="#000"/>
<text x="1424.5" y="135" font-size="10.2" fill="#000" text-anchor="start" textLength="32.8" lengthAdjust="spacingAndGlyphs" stroke="#000" stroke-width="0.2">1.01430</text>
<rect x="1419" y="164" width="2" height="1" fill="#000"/>
<text x="1424.5" y="168" font-size="10.2" fill="#000" text-anchor="start" textLength="32.8" lengthAdjust="spacingAndGlyphs" stroke="#000" stroke-width="0.2">1.01050</text>
<rect x="1419" y="197" width="2" height="1" fill="#000"/>
<text x="1424.5" y="201" font-size="10.2" fill="#000" text-anchor="start" textLength="32.8" lengthAdjust="spacingAndGlyphs" stroke="#000" stroke-width="0.2">1.00660</text>
<rect x="1419" y="230" width="2" height="1" fill="#000"/>
<text x="1424.5" y="234" font-size="10.2" fill="#000" text-anchor="start" textLength="32.8" lengthAdjust="spacingAndGlyphs" stroke="#000" stroke-width="0.2">1.00280</text>
<rect x="1419" y="263" width="2" height="1" fill="#000"/>
<text x="1424.5" y="267" font-size="10.2" fill="#000" text-anchor="start" textLength="32.8" lengthAdjust="spacingAndGlyphs" stroke="#000" stroke-width="0.2">0.99900</text>
<rect x="1419" y="296" width="2" height="1" fill="#000"/>
<text x="1424.5" y="300" font-size="10.2" fill="#000" text-anchor="start" textLength="32.8" lengthAdjust="spacingAndGlyphs" stroke="#000" stroke-width="0.2">0.99520</text>
<rect x="1419" y="329" width="2" height="1" fill="#000"/>
<text x="1424.5" y="333" font-size="10.2" fill="#000" text-anchor="start" textLength="32.8" lengthAdjust="spacingAndGlyphs" stroke="#000" stroke-width="0.2">0.99140</text>
<rect x="1419" y="362" width="2" height="1" fill="#000"/>
<text x="1424.5" y="366" font-size="10.2" fill="#000" text-anchor="start" textLength="32.8" lengthAdjust="spacingAndGlyphs" stroke="#000" stroke-width="0.2">0.98760</text>
<rect x="1419" y="395" width="2" height="1" fill="#000"/>
<text x="1424.5" y="399" font-size="10.2" fill="#000" text-anchor="start" textLength="32.8" lengthAdjust="spacingAndGlyphs" stroke="#000" stroke-width="0.2">0.98380</text>
<rect x="1419" y="428" width="2" height="1" fill="#000"/>
<rect x="1419" y="461" width="2" height="1" fill="#000"/>
<text x="1424.5" y="465" font-size="10.2" fill="#000" text-anchor="start" textLength="32.8" lengthAdjust="spacingAndGlyphs" stroke="#000" stroke-width="0.2">0.97610</text>
<rect x="1419" y="494" width="2" height="1" fill="#000"/>
<text x="1424.5" y="498" font-size="10.2" fill="#000" text-anchor="start" textLength="32.8" lengthAdjust="spacingAndGlyphs" stroke="#000" stroke-width="0.2">0.97230</text>
<rect x="1419" y="527" width="2" height="1" fill="#000"/>
<text x="1424.5" y="531" font-size="10.2" fill="#000" text-anchor="start" textLength="32.8" lengthAdjust="spacingAndGlyphs" stroke="#000" stroke-width="0.2">0.96850</text>
<rect x="1419" y="560" width="2" height="1" fill="#000"/>
<text x="1424.5" y="564" font-size="10.2" fill="#000" text-anchor="start" textLength="32.8" lengthAdjust="spacingAndGlyphs" stroke="#000" stroke-width="0.2">0.96470</text>
<rect x="1420" y="40" width="40" height="11" fill="#ff0000"/>
<text x="1424.5" y="49" font-size="10.2" fill="#fff" text-anchor="start" textLength="32.8" lengthAdjust="spacingAndGlyphs" stroke="#fff" stroke-width="0.2">1.02406</text>
<rect x="1420" y="144" width="40" height="11" fill="#ff0000"/>
<text x="1424.5" y="153" font-size="10.2" fill="#fff" text-anchor="start" textLength="32.8" lengthAdjust="spacingAndGlyphs" stroke="#fff" stroke-width="0.2">1.01206</text>
<rect x="1420" y="266" width="40" height="11" fill="#00ff00"/>
<text x="1424.5" y="275" font-size="10.2" fill="#fff" text-anchor="start" textLength="32.8" lengthAdjust="spacingAndGlyphs" stroke="#fff" stroke-width="0.2">0.99798</text>
<rect x="1420" y="345" width="40" height="11" fill="#000000"/>
<text x="1424.5" y="354" font-size="10.2" fill="#fff" text-anchor="start" textLength="32.8" lengthAdjust="spacingAndGlyphs" stroke="#fff" stroke-width="0.2">0.98898</text>
<rect x="1420" y="421" width="40" height="11" fill="#0000ff"/>
<text x="1424.5" y="430" font-size="10.2" fill="#fff" text-anchor="start" textLength="32.8" lengthAdjust="spacingAndGlyphs" stroke="#fff" stroke-width="0.2">0.98009</text>
<rect x="1420" y="508" width="40" height="11" fill="#0000ff"/>
<text x="1424.5" y="517" font-size="10.2" fill="#fff" text-anchor="start" textLength="32.8" lengthAdjust="spacingAndGlyphs" stroke="#fff" stroke-width="0.2">0.97006</text>
<text x="1422.5" y="576" font-size="10.2" fill="#000" text-anchor="start" textLength="32.8" lengthAdjust="spacingAndGlyphs" stroke="#000" stroke-width="0.2">0.00613</text>
<rect x="1419" y="612" width="2" height="1" fill="#000"/>
<text x="1423" y="616" font-size="10.2" fill="#000" text-anchor="start" textLength="18" lengthAdjust="spacingAndGlyphs" stroke="#000" stroke-width="0.2">0.00</text>
<text x="1422.5" y="666" font-size="10.2" fill="#000" text-anchor="start" textLength="41" lengthAdjust="spacingAndGlyphs" stroke="#000" stroke-width="0.2">-0.007612</text>
<text x="1422.5" y="682" font-size="10.2" fill="#000" text-anchor="start" textLength="14.5" lengthAdjust="spacingAndGlyphs" stroke="#000" stroke-width="0.2">100</text>
<text x="1422.5" y="715" font-size="10.2" fill="#000" text-anchor="start" textLength="9.7" lengthAdjust="spacingAndGlyphs" stroke="#000" stroke-width="0.2">70</text>
<text x="1422.5" y="766" font-size="10.2" fill="#000" text-anchor="start" textLength="9.7" lengthAdjust="spacingAndGlyphs" stroke="#000" stroke-width="0.2">30</text>
<text x="1422.5" y="798" font-size="10.2" fill="#000" text-anchor="start" stroke="#000" stroke-width="0.2">0</text>
<text x="18.4" y="35" font-size="10.2" fill="#000" text-anchor="start" textLength="67" lengthAdjust="spacingAndGlyphs" stroke="#000" stroke-width="0.2">USDCHF-,Daily</text>
<text x="92" y="35" font-size="10.2" fill="#000" text-anchor="start" textLength="140.6" lengthAdjust="spacingAndGlyphs" stroke="#000" stroke-width="0.2">0.98906 0.98933 0.98878 0.98898</text>
<rect x="9" y="31" width="1" height="1" fill="#000"/>
<rect x="8" y="32" width="3" height="1" fill="#000"/>
<rect x="7" y="33" width="5" height="1" fill="#000"/>
<rect x="6" y="34" width="7" height="1" fill="#000"/>
<text x="7.5" y="578" font-size="10.2" fill="#000" text-anchor="start" textLength="150.5" lengthAdjust="spacingAndGlyphs" stroke="#000" stroke-width="0.2">MACD(12,26,9) -0.000430 0.000224</text>
<text x="7.5" y="684" font-size="10.2" fill="#000" text-anchor="start" textLength="67.3" lengthAdjust="spacingAndGlyphs" stroke="#000" stroke-width="0.2">RSI(14) 45.0613</text>
<rect x="1129" y="24" width="9" height="1" fill="#c0c0c0"/>
<rect x="1130" y="25" width="7" height="1" fill="#c0c0c0"/>
<rect x="1131" y="26" width="5" height="1" fill="#c0c0c0"/>
<rect x="1132" y="27" width="3" height="1" fill="#c0c0c0"/>
<rect x="1133" y="28" width="1" height="1" fill="#c0c0c0"/>
<defs><pattern id="dith" width="2" height="2" patternUnits="userSpaceOnUse"><rect width="2" height="2" fill="#f0f0f0"/><rect width="1" height="1" fill="#fff"/><rect x="1" y="1" width="1" height="1" fill="#fff"/></pattern></defs>
<rect x="29" y="0" width="24" height="17" fill="url(#dith)"/>
<rect x="28" y="0" width="1" height="17" fill="#a0a0a0"/>
<rect x="53" y="0" width="1" height="17" fill="#ffffff"/>
<rect x="28" y="17" width="26" height="1" fill="#ffffff"/>
<rect x="111" y="0" width="1" height="19" fill="#a0a0a0"/>
<rect x="112" y="0" width="1" height="19" fill="#ffffff"/>
<text x="5.5" y="11" font-size="10.2" fill="#404040" text-anchor="start" textLength="12.3" lengthAdjust="spacingAndGlyphs">H4</text>
<text x="34.7" y="11" font-size="10.2" fill="#404040" text-anchor="start" textLength="11.2" lengthAdjust="spacingAndGlyphs">D1</text>
<text x="62.3" y="11" font-size="10.2" fill="#404040" text-anchor="start" textLength="13.8" lengthAdjust="spacingAndGlyphs">W1</text>
<text x="88.6" y="11" font-size="10.2" fill="#404040" text-anchor="start" textLength="14.7" lengthAdjust="spacingAndGlyphs">MN</text>
<defs><linearGradient id="gl" x1="0" y1="0" x2="0" y2="1"><stop offset="0" stop-color="#fa5252"/><stop offset="1" stop-color="#e23232"/></linearGradient><linearGradient id="gd" x1="0" y1="0" x2="0" y2="1"><stop offset="0" stop-color="#dc3030"/><stop offset="1" stop-color="#b00000"/></linearGradient><linearGradient id="gb" x1="0" y1="0" x2="0" y2="1"><stop offset="0" stop-color="#ececec"/><stop offset="1" stop-color="#cfcfcf"/></linearGradient></defs>
<rect x="4" y="41" width="223" height="68" fill="#ffffff"/>
<rect x="2" y="43" width="2" height="7" fill="#ff0000"/>
<rect x="6" y="43" width="52" height="24" fill="#c81818"/>
<rect x="7" y="44" width="50" height="23" fill="url(#gl)"/>
<rect x="173" y="43" width="52" height="24" fill="#c81818"/>
<rect x="174" y="44" width="50" height="23" fill="url(#gl)"/>
<rect x="6" y="67" width="109" height="40" fill="url(#gd)"/>
<rect x="117" y="67" width="108" height="40" fill="url(#gd)"/>
<rect x="114" y="67" width="1" height="40" fill="#a80000"/>
<rect x="224" y="67" width="1" height="40" fill="#a80000"/>
<rect x="6" y="106" width="109" height="1" fill="#a80000"/>
<rect x="117" y="106" width="108" height="1" fill="#a80000"/>
<rect x="58" y="43" width="115" height="24" fill="#ffffff"/>
<rect x="60.5" y="43.5" width="110" height="21" fill="#ffffff" stroke="#a8a8b4"/>
<rect x="61" y="44" width="20" height="20" fill="url(#gb)"/>
<rect x="150" y="44" width="20" height="20" fill="url(#gb)"/>
<rect x="81" y="44" width="1" height="20" fill="#a8a8b4"/>
<rect x="149" y="44" width="1" height="20" fill="#a8a8b4"/>
<path d="M68 52 L73 52 L70.5 55 Z" fill="#3858c8" shape-rendering="auto"/>
<path d="M157 55 L162 55 L159.5 52 Z" fill="#3858c8" shape-rendering="auto"/>
<text x="145.5" y="58" font-size="12.5" fill="#000" text-anchor="end" textLength="23" lengthAdjust="spacingAndGlyphs">1.00</text>
<text x="18.3" y="59" font-size="12.4" fill="#fff" text-anchor="start" textLength="25.6" lengthAdjust="spacingAndGlyphs">SELL</text>
<text x="186.6" y="59" font-size="12.4" fill="#fff" text-anchor="start" textLength="23" lengthAdjust="spacingAndGlyphs">BUY</text>
<rect x="10" y="66" width="44" height="1" fill="#a01010"/>
<rect x="177" y="66" width="44" height="1" fill="#a01010"/>
<rect x="10" y="67" width="44" height="1" fill="#ec5a5a"/>
<rect x="177" y="67" width="44" height="1" fill="#ec5a5a"/>
<text x="26" y="97.7" font-size="11.8" fill="#fff" text-anchor="start" font-weight="bold" textLength="23.8" lengthAdjust="spacingAndGlyphs">0.98</text>
<text x="53.2" y="98" font-size="35.3" fill="#fff" text-anchor="start" textLength="36" lengthAdjust="spacingAndGlyphs">89</text>
<text x="93.4" y="82" font-size="11.8" fill="#fff" text-anchor="start" font-weight="bold">8</text>
<text x="136" y="97.7" font-size="11.8" fill="#fff" text-anchor="start" font-weight="bold" textLength="23.8" lengthAdjust="spacingAndGlyphs">0.98</text>
<text x="163.2" y="98" font-size="35.3" fill="#fff" text-anchor="start" textLength="36" lengthAdjust="spacingAndGlyphs">92</text>
<text x="203.4" y="82" font-size="11.8" fill="#fff" text-anchor="start" font-weight="bold">3</text>
<rect x="0" y="822" width="1460" height="1" fill="#f2f2f2"/>
<rect x="0" y="823" width="1460" height="1" fill="#e9e9e9"/>
<rect x="0" y="824" width="1460" height="21" fill="#f0f0f0"/>
<rect x="0" y="824" width="1460" height="1" fill="#000"/>
<rect x="0" y="844" width="1460" height="1" fill="#fafafa"/>
<rect x="220" y="824" width="107" height="19" fill="#ffffff"/>
<rect x="220" y="824" width="1" height="19" fill="#000"/>
<rect x="327" y="824" width="1" height="19" fill="#000"/>
<rect x="220" y="842" width="108" height="1" fill="#000"/>
<rect x="221" y="824" width="106" height="1" fill="#fff"/>
<text x="15.5" y="839.3" font-size="13" fill="#666" text-anchor="start" textLength="84" lengthAdjust="spacingAndGlyphs">EURUSD-,Daily</text>
<text x="122" y="839.3" font-size="13" fill="#666" text-anchor="start" textLength="86.8" lengthAdjust="spacingAndGlyphs">AUDUSD-,Daily</text>
<text x="232.5" y="839.3" font-size="13" fill="#000" text-anchor="start" textLength="83" lengthAdjust="spacingAndGlyphs">USDCHF-,Daily</text>
<text x="338.8" y="839.3" font-size="13" fill="#666" text-anchor="start" textLength="86.2" lengthAdjust="spacingAndGlyphs">USDCAD-,Daily</text>
<text x="448.3" y="839.3" font-size="13" fill="#666" text-anchor="start" textLength="88" lengthAdjust="spacingAndGlyphs">USDCNH-,Daily</text>
<text x="559.5" y="839.3" font-size="13" fill="#666" text-anchor="start" textLength="96.3" lengthAdjust="spacingAndGlyphs">EURCHF-,Weekly</text>
<text x="680.5" y="839.3" font-size="13" fill="#666" text-anchor="start" textLength="99" lengthAdjust="spacingAndGlyphs">XAUUSD-,Weekly</text>
<text x="803.3" y="839.3" font-size="13" fill="#666" text-anchor="start" textLength="72.2" lengthAdjust="spacingAndGlyphs">GBPUSD-,H1</text>
<text x="899.5" y="839.3" font-size="13" fill="#666" text-anchor="start" textLength="56.3" lengthAdjust="spacingAndGlyphs">UKOil-,H1</text>
<text x="978.3" y="839.3" font-size="13" fill="#666" text-anchor="start" textLength="82.2" lengthAdjust="spacingAndGlyphs">USDX-,Weekly</text>
<text x="1082.5" y="839.3" font-size="13" fill="#666" text-anchor="start" textLength="70" lengthAdjust="spacingAndGlyphs">EURCHF-,H1</text>
<text x="1176.3" y="839.3" font-size="13" fill="#666" text-anchor="start" textLength="67.5" lengthAdjust="spacingAndGlyphs">USOil-,Daily</text>
<rect x="112" y="827" width="1" height="14" fill="#5a5a5a"/>
<rect x="436" y="827" width="1" height="14" fill="#5a5a5a"/>
<rect x="548" y="827" width="1" height="14" fill="#5a5a5a"/>
<rect x="668" y="827" width="1" height="14" fill="#5a5a5a"/>
<rect x="792" y="827" width="1" height="14" fill="#5a5a5a"/>
<rect x="888" y="827" width="1" height="14" fill="#5a5a5a"/>
<rect x="968" y="827" width="1" height="14" fill="#5a5a5a"/>
<rect x="1072" y="827" width="1" height="14" fill="#5a5a5a"/>
<rect x="1164" y="827" width="1" height="14" fill="#5a5a5a"/>
<rect x="1256" y="827" width="1" height="14" fill="#5a5a5a"/>
<path d="M1437.5 829.5 L1437.5 836.5 L1434 833 Z M1452.5 829.5 L1452.5 836.5 L1456 833 Z" fill="#808080" shape-rendering="auto"/>
</svg></body></html>
